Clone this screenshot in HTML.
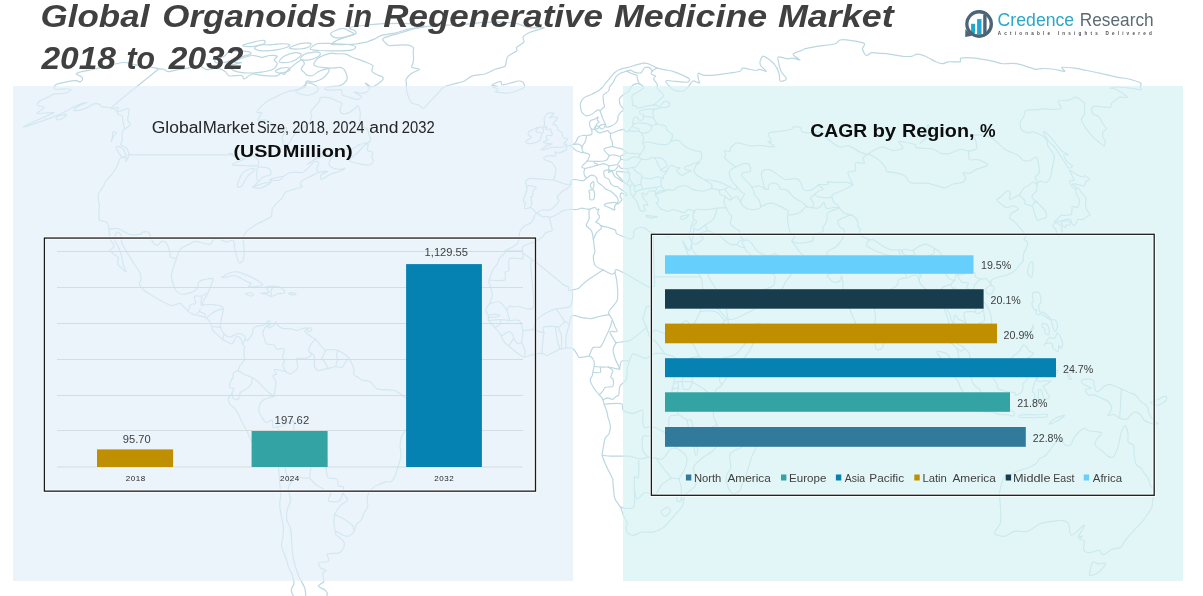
<!DOCTYPE html>
<html lang="en">
<head>
<meta charset="utf-8">
<title>Global Organoids in Regenerative Medicine Market 2018 to 2032</title>
<style>
html,body{margin:0;padding:0;background:#ffffff;}
body{width:1203px;height:596px;overflow:hidden;font-family:"Liberation Sans",sans-serif;}
svg{display:block;}
text{font-family:"Liberation Sans",sans-serif;}
.t1{font-weight:bold;font-style:italic;font-size:31px;fill:#404040;}
.ct{font-size:15.6px;fill:#262626;}
.cb{font-size:17px;font-weight:bold;fill:#0d0d0d;}
.cr{font-size:18px;font-weight:bold;fill:#0d0d0d;}
.dl{font-size:11.6px;fill:#404040;}
.ax{font-size:8px;fill:#262626;}
.lg{font-size:11.4px;fill:#404040;}
</style>
</head>
<body>
<svg width="1203" height="596" viewBox="0 0 1203 596">
<!--MAPSTART-->
<g id="map" fill="none" stroke="#bbd7e0" stroke-width="1.2" stroke-linejoin="round" stroke-linecap="round">
<path d="M23.1,126.9C23.6,126.4 29.4,123.7 32.8,122.2C36.2,120.6 43.8,117.2 46.9,115.8C49.9,114.4 54.1,112.8 54.1,112.4C54.2,112 49.6,112.7 47.1,112.8C44.7,113 37.3,114 36.9,113.3C36.5,112.5 44.1,108.5 44.2,107.4C44.2,106.3 37.8,106.3 37.2,105.3C36.7,104.4 38.5,101.9 40.1,100.8C41.6,99.6 46.2,98 48.2,97.1C50.1,96.2 51.1,94.8 53.6,94.2C56.2,93.6 63.7,93.7 66.1,93C68.6,92.3 71.2,89.9 71.1,89.4C71,88.8 67.8,89 65.5,89C63.2,88.9 56.1,89.6 54.7,89C53.4,88.3 54.5,85.6 56.2,84.6C57.8,83.5 63.8,82.3 66.6,81.8C69.3,81.2 73.9,80.6 75.8,80.6C77.7,80.6 79.2,82 80.1,81.8C81.1,81.6 82.5,79.8 82.6,79C82.7,78.2 81.6,77 80.7,76.3C79.7,75.5 76,74.4 76.2,73.8C76.4,73.1 79.2,72.3 81.8,71.6C84.5,71 91.5,69.7 94.7,69C98,68.2 100.6,67.2 104.7,66.3C108.7,65.4 119.1,62.8 123.2,62.5C127.3,62.3 130.7,63.9 133.4,64.4C136.2,64.9 140,65.5 142.6,65.9C145.3,66.3 149.7,67 152,67.4C154.3,67.8 157.2,68.5 158.9,68.8C160.5,69 162.6,68.9 163.9,69.3C165.2,69.7 166.2,71.6 168.1,71.6C170.1,71.7 175,70.3 177.9,69.7C180.9,69.2 186,68.3 189.1,67.8C192.2,67.3 197.4,66.1 199.7,66.3C201.9,66.5 204,68.5 205,69C206.1,69.4 205.2,69.8 207,69.7C208.8,69.6 215,67.9 217.5,68.2C220.1,68.5 223.5,70.5 225.2,71.6C226.9,72.7 227,75.3 229.4,75.9C231.7,76.4 239.6,75.1 241.6,75.5C243.7,76 242.5,79.2 244,79C245.5,78.8 249.8,74.5 252.1,74C254.3,73.4 257.5,74.8 259.8,75.1C262,75.4 265.5,75.8 267.9,75.9C270.3,76 274.9,76.3 276.8,75.9C278.6,75.5 279.8,73.4 280.8,73.2C281.8,73 283,74.9 284.1,74.3C285.3,73.8 286.5,71.3 288.8,69.3C291.2,67.4 298.4,61.1 300.6,60.3C302.8,59.5 304.3,62.5 304.4,63.7C304.5,64.8 301.2,67.4 301.2,68.6C301.1,69.8 303,71.1 303.9,72C304.7,73 305.8,74.6 307.1,75.1C308.3,75.6 310.9,76.1 312.7,75.5C314.4,75 316.9,72.2 319.2,71.3C321.4,70.3 327.5,68.3 328.7,68.6C329.9,68.8 328.8,71.7 327.8,73.2C326.8,74.7 323.7,77.8 321.7,79C319.7,80.2 315.7,81.5 313.6,81.8C311.4,82.1 307.9,80.5 306.7,81C305.4,81.4 306.1,83.8 305,85C303.9,86.1 301.3,88 298.8,89C296.3,89.9 290.3,90.8 287.3,91.8C284.4,92.8 280.7,94.5 277.9,95.9C275,97.2 269.8,99.5 267.3,101.2C264.8,102.8 261.7,105.8 260.2,107.4C258.8,109 256.9,111.7 257,112.4C257.2,113.2 261.5,111.8 261.6,112.8C261.7,113.9 257.4,119 258,120C258.7,121 264.1,119.4 266.3,120C268.4,120.6 271.7,123.3 273.3,124.3C275,125.3 276.2,126.7 278.1,127.3C279.9,127.8 286,126.7 286.6,128.1C287.2,129.6 282.7,135.3 282.2,137.2C281.7,139.1 283,140.5 283.1,141.6C283.3,142.6 282.4,144.3 283.2,144.6C284,144.9 287.5,144.8 288.8,143.8C290.1,142.7 291.1,139.1 292.4,137.2C293.7,135.4 296,132.3 297.8,130.7C299.6,129.2 303.7,127.6 305.3,126.4C307,125.2 308.6,123.7 309.5,122.2C310.4,120.6 311.6,117.2 311.8,115.8C311.9,114.4 310.3,113.6 310.6,112.4C310.9,111.2 312.6,109 313.9,107.4C315.1,105.8 318.6,102.6 319.6,101.2C320.5,99.8 319.1,98 320.5,97.5C321.9,97 327.3,97.4 329.6,97.9C332,98.4 335.2,100.4 337,101.2C338.7,101.9 341.6,102.1 342,103.2C342.4,104.4 339.9,108 339.9,109.5C340,111 341,113.3 342.4,113.7C343.7,114.1 347.8,113.2 349.6,112.4C351.4,111.7 353.9,109.2 355.1,108.2C356.3,107.3 357.4,105 358.1,105.7C358.8,106.5 360,111.5 360.3,113.7C360.5,115.8 359.6,119.1 359.9,120.9C360.1,122.7 361.1,125.2 362.2,126.4C363.2,127.6 366.6,128.3 367.5,129.4C368.4,130.5 368.3,132.8 368.8,134.2C369.2,135.6 370.7,138.2 370.7,139.4C370.6,140.6 370.3,141.7 368.7,142.4C367.1,143.2 361.5,143.7 359.2,144.6C356.9,145.6 354.7,148.4 352.2,149C349.7,149.6 345,149 341.8,149C338.5,149.1 332.5,148.6 329.4,149.5C326.3,150.3 322.6,153.1 320.1,154.8C317.6,156.4 313.8,160.1 312,161.4C310.2,162.7 307,164.3 307.3,164.1C307.7,163.9 311.8,161.4 314.3,160.1C316.9,158.7 322.5,155.6 325.4,154.8C328.2,153.9 333.8,153.2 334.5,153.9C335.3,154.5 331.4,157.8 330.6,159.2C329.8,160.6 328.8,162.5 328.9,163.6C329,164.8 329.6,166.4 331.1,167.2C332.6,168 337.3,169.3 339.2,169.4C341.2,169.5 344.9,167.8 345.1,168.1C345.3,168.3 342.5,170.3 340.4,171.2C338.3,172.1 333,173.2 330.3,174.3C327.6,175.5 322.6,179.2 321.3,179.3C320,179.3 320.2,175.9 321.1,174.8C322,173.6 328.2,171.5 327.8,171.2C327.4,170.9 320.9,171.7 318.3,172.5C315.7,173.4 311.6,175.9 309.4,177C307.2,178.1 304,179.2 302.7,180.2C301.5,181.1 300.4,182.8 300.3,183.8C300.2,184.7 302.7,186.2 302,186.9C301.4,187.6 298.2,188 295.9,188.7C293.5,189.5 287.2,191.1 285.3,192.3C283.5,193.5 283.8,196 282.8,197.3C281.8,198.6 279.8,200.2 278.3,201.8C276.8,203.4 273.3,206.6 272.3,208.6C271.4,210.7 272.5,214.7 271.4,216.4C270.4,218 267.2,218.8 265.1,220C262.9,221.2 258.7,222.9 256.1,224.5C253.5,226.2 248.4,229.4 246.5,231.4C244.7,233.3 243.5,235.8 243.2,238.2C242.8,240.6 244.2,245.3 244.2,248.2C244.3,251.1 244,256.7 243.6,258.7C243.2,260.7 242.1,261.8 241.4,262.3C240.7,262.8 239.3,263.2 238.7,262.3C238,261.5 237.2,258.2 236.7,256.4C236.2,254.6 235.5,251.8 235,249.6C234.5,247.3 234.5,241.6 233.3,240.5C232.1,239.4 228.4,242 226.4,241.8C224.4,241.6 221.2,239.4 219.4,239.1C217.6,238.8 214.8,238.9 213.5,239.6C212.2,240.3 211.6,243.5 210.4,244.1C209.1,244.7 206.8,244 204.7,243.7C202.6,243.3 197.9,241.3 195.6,241.4C193.4,241.5 191.3,243 189.1,244.1C186.9,245.3 181.7,247.5 179.9,249.6C178.1,251.6 177.7,255.1 176.5,258.7C175.3,262.2 171.9,271.1 171.4,274.6C170.9,278.2 172.4,281.5 173.1,283.7C173.7,286 174.8,289.1 175.9,290.5C177.1,292 179.1,293.9 181.3,294.2C183.5,294.4 189.2,293.2 191.5,292.4C193.7,291.5 196.1,289.8 197.2,288.3C198.4,286.7 197.7,282.8 199.4,281.4C201.2,280.1 207.4,279 209.3,278.7C211.3,278.4 213.1,277.8 213.2,279.2C213.3,280.5 210.8,286 209.9,288.3C209,290.5 208,292.8 206.9,295.1C205.9,297.3 201.6,302.8 202.5,304.2C203.4,305.5 210.6,304.1 213.6,304.6C216.5,305.2 222.1,305.6 223.1,307.8C224.2,310 221.4,317.4 221.1,320.1C220.7,322.8 220,324.9 220.5,326.9C221,329 223.3,333.3 224.7,334.7C226.2,336.1 228.9,337.1 230.6,337C232.3,336.8 235.1,334.1 236.8,333.8C238.5,333.4 241.6,334 242.8,334.7C244,335.3 245.4,337 245.3,338.3C245.3,339.7 243.2,344.1 242.6,344.2C242.1,344.4 242.1,340.3 241.3,339.2C240.4,338.1 237.9,335.9 236.6,336.5C235.4,337.1 233.5,343 232.2,343.8C230.9,344.6 228.9,342.6 227.5,342C226.1,341.3 223.6,339.9 222.5,339.2C221.4,338.5 220.9,337.9 219.8,337C218.7,336 216,333.5 214.9,332.4C213.8,331.3 212.4,330.3 211.9,329.2C211.4,328.1 212.3,326.3 211.5,324.7C210.7,323.1 208,319.1 206.1,317.8C204.3,316.6 200.6,316.2 198.4,315.6C196.2,314.9 192.8,314.6 190.6,313.3C188.5,312 185,307.9 183.5,306.5C182,305 181.6,303.4 180,303.3C178.3,303.1 174.2,305.8 171.7,305.6C169.2,305.3 164.2,302.3 162.4,301.5C160.5,300.6 160.2,300.5 158.7,299.6C157.1,298.7 153.5,296.4 151.4,295.1C149.4,293.8 146,292.1 144.3,290.5C142.6,289 139.9,285.8 139.5,284.2C139,282.6 141.1,280.8 141.1,279.2C141.1,277.5 140.7,274.6 139.6,272.3C138.6,270.1 135.1,265.5 133.7,263.2C132.3,261 130.6,258.3 129.5,256.4C128.3,254.5 126.6,251.5 125.5,249.6C124.4,247.6 122.5,244.9 121.8,242.8C121.2,240.6 121.5,236 120.8,234.6C120,233.1 117.5,231.4 116.6,232.3C115.8,233.1 114.6,238.3 114.9,240.5C115.1,242.6 117.5,245 118.5,247.3C119.4,249.6 121,253.8 121.7,256.4C122.4,259 122.8,263.4 123.4,265.5C124,267.6 126,270.8 126.1,271.4C126.1,272.1 124.8,271.1 123.6,270.1C122.4,269 118.6,265.9 117.8,264.1C117.1,262.4 118.9,259.3 118.2,257.8C117.5,256.2 114,254.3 112.8,253.2C111.6,252.2 109.6,251.5 109.7,250.5C109.9,249.5 114,248 114.1,246.4C114.2,244.8 111,241.1 110.3,239.1C109.6,237.1 109.5,233.7 109.3,232.3C109.2,230.9 109.4,230.5 109,229.1C108.7,227.7 108.2,223.6 106.9,222.3C105.5,221 100.6,221.7 99.5,220C98.4,218.3 99,212.6 99,210.5C98.9,208.3 99.5,206.7 99.4,205C99.3,203.3 98.2,199.9 98.1,198.2C98,196.5 97.9,195 98.7,193.2C99.5,191.5 102.7,187.7 103.7,186C104.6,184.4 104.2,183.2 105.4,181.5C106.5,179.9 110.2,176.4 111.8,174.3C113.4,172.3 115.2,169.6 116.5,167.2C117.8,164.8 119.4,158.7 120.8,157.4C122.2,156.1 125.7,157.3 126.4,157.8C127.2,158.4 125.3,161.8 125.8,161.4C126.2,161 128.9,155.9 129.4,154.8C129.8,153.6 129.3,154.4 128.9,153.4C128.5,152.5 127.8,149.4 126.6,148.1C125.4,146.9 121.3,145.7 120.7,144.6C120.1,143.6 122.1,142.1 122.3,140.7C122.4,139.3 122,136.3 122,135.1C122,133.8 122.1,132.5 122.4,131.6C122.8,130.7 124.4,129.6 124.5,128.6C124.7,127.5 123.8,125.5 123.5,124.3C123.3,123.1 122.9,121.2 122.7,120C122.5,118.8 122.7,116.6 122.1,115.8C121.5,115 119.2,115.1 118.5,114.5C117.7,113.9 117.3,112.4 116.7,111.6C116.1,110.8 115.3,109.2 114.1,108.7C112.9,108.1 110.2,107.7 108.4,107.4C106.6,107.1 102.6,107 101.3,106.6C100,106.1 100.6,104.4 99.4,104.1C98.2,103.7 94.7,103.6 93,104.1C91.3,104.5 89.5,106.5 87.5,107.4C85.6,108.3 81.2,109.9 79.3,110.3C77.3,110.7 73.6,111 73.8,110.3C73.9,109.6 78.5,106.4 80.4,105.3C82.3,104.2 87.1,102.6 87.1,102.4C87,102.2 82.8,103.1 80.3,104.1C77.7,105.1 71.6,108.2 69,109.5C66.4,110.8 64.5,112.1 61.9,113.3C59.4,114.5 54.1,116.7 50.9,117.9C47.8,119.1 43.1,120.6 39.9,121.7C36.8,122.8 31.3,124.8 28.9,125.6C26.5,126.3 22.5,127.3 23.1,126.9Z"/>
<path d="M383.8,38C386.3,36.6 398.4,33.6 402.7,32.2C407,30.9 410.3,29.5 414,28.6C417.7,27.8 423.6,26.9 428.6,26.4C433.5,25.8 443.8,25.3 449.1,25C454.5,24.7 461.6,24.6 466.6,24.2C471.6,23.8 480,22.7 484.6,22.4C489.2,22.1 494.6,22 498.9,22.1C503.2,22.2 511.1,22.5 514.8,23.1C518.5,23.7 522.8,25.7 525.2,26.4C527.6,27 529.2,27.6 531.8,27.8C534.5,28 544.3,27.1 544,27.8C543.8,28.4 533,30.9 530.1,32.2C527.1,33.5 524,35.6 523.1,37C522.2,38.4 524.7,40.6 523.8,42.1C522.9,43.5 517.6,46 516.6,47.3C515.6,48.5 517.9,49.6 516.7,50.8C515.5,52.1 509.5,54.7 508,56.3C506.5,57.8 506.6,60.4 506.2,61.8C505.7,63.2 506.3,65.2 504.8,66.3C503.2,67.4 498,68.3 495.1,69.3C492.3,70.4 488.1,73 484.8,74C481.6,74.9 475.2,74.9 472.3,75.9C469.4,76.9 467.2,79.8 464.4,81C461.7,82.2 455.6,83.3 452.7,84.2C449.7,85 445.9,85.7 443.9,87C441.9,88.2 440.3,91 438.3,93C436.4,95 432.3,99.1 430.3,101.2C428.4,103.2 425.7,106.4 424.6,107.4C423.5,108.4 423.6,108.6 422.7,108.2C421.7,107.8 419.3,105.2 417.8,104.5C416.3,103.8 413.3,104.3 412,103.2C410.7,102.2 409.3,98.9 408.5,97.1C407.7,95.2 406.9,92.2 406.6,90.2C406.3,88.2 406.3,84.6 406.3,83C406.3,81.4 405.6,80.4 406.3,79C407.1,77.6 409.7,74.6 411.6,73.2C413.5,71.8 419.5,70.2 419.6,69.3C419.7,68.5 413,68.2 412,67.4C411,66.6 412.6,65 412.8,63.7C413.1,62.3 413.5,59.7 413.6,58.1C413.6,56.5 413.2,54.2 413.2,52.6C413.1,51.1 414.2,48.4 413.2,47.3C412.2,46.2 409.3,45.1 405.9,44.8C402.5,44.6 392.3,45.9 389.3,45.5C386.3,45.1 385.5,43.1 384.7,42.1C383.9,41 381.2,39.4 383.8,38Z"/>
<path d="M491.8,85C492.2,84.3 498.9,81.4 500.4,81.4C501.9,81.4 500.8,84.8 502.5,85C504.1,85.1 509.9,83.1 512.2,82.6C514.4,82 517,81.1 518.5,81C520.1,80.9 522,81.3 522.8,82.2C523.7,83 525,85.9 524.5,87C524.1,88 521.8,88.9 519.7,89.8C517.6,90.6 512.2,92.6 509.7,93C507.2,93.4 504.1,92.8 502,92.6C500,92.4 496,92.3 495.4,91.8C494.9,91.3 498.7,89.6 498.3,89C498,88.3 492.8,87.8 492.7,87.4C492.6,87 497.7,86.5 497.6,86.2C497.5,85.8 491.4,85.6 491.8,85Z"/>
<path d="M382,80.6C383.5,79.2 383.3,77.8 382.7,77.1C382.1,76.3 379.6,75.9 378,75.1C376.5,74.3 372.5,72.6 371.8,71.3C371.1,69.9 373.7,66.8 372.9,65.5C372.2,64.3 368.4,63.3 366.6,62.5C364.8,61.7 362.3,60.7 360.2,59.9C358.1,59.2 353.5,57.8 351.5,57C349.5,56.2 348.2,54.5 345.9,54.1C343.6,53.6 337.5,53.8 335.2,53.7C333,53.6 332.5,52.7 330.1,53.4C327.7,54 320.7,56.5 318.3,58.1C316,59.7 313.8,63.2 313.7,64.4C313.5,65.6 316.1,66.2 317.3,66.7C318.6,67.1 320.6,67.2 322.4,67.4C324.3,67.7 328,68.2 330.5,68.2C332.9,68.2 337.9,67.3 339.8,67.4C341.7,67.6 343.1,68.4 344,69.3C345,70.3 345.9,72.6 346.4,74C346.8,75.3 347.4,77.7 347.1,79C346.8,80.3 345.4,82 344.3,83C343.3,83.9 341.7,85.2 339.4,85.8C337,86.3 329.9,86.5 327.9,87C325.8,87.4 324.3,88.5 324.9,89C325.4,89.4 329.4,90.1 331.7,90.2C334,90.3 339.7,89.1 341.2,89.8C342.8,90.5 341.3,94 342.4,95C343.5,96.1 346.9,96.4 349,97.1C351,97.7 355.1,99.6 356.9,99.5C358.7,99.5 362.1,97.7 361.7,96.7C361.3,95.6 354.1,92.7 354.2,92.2C354.2,91.7 360.5,93.4 362.1,93.4C363.7,93.5 364.6,93.3 365.7,92.6C366.8,91.9 369.7,89.9 369.6,88.6C369.6,87.2 365.1,83.2 365.5,83C365.9,82.7 369.8,87.3 372.1,87C374.5,86.6 380.5,82 382,80.6Z"/>
<path d="M230.8,65.5C229.5,66.6 230.8,69.1 232.8,70.1C234.7,71.1 240.7,72.5 244.5,72.8C248.3,73.1 255.5,72.9 259.5,72.4C263.6,71.9 270.3,70.6 272.9,69.3C275.4,68.1 277.1,65 277.3,63.7C277.5,62.3 274.3,61 274.2,59.9C274.2,58.9 277.7,56.9 277,56.3C276.4,55.6 271.7,55.4 269.6,55.5C267.4,55.7 264.2,57.4 261.8,57.4C259.4,57.4 256,55.3 252.9,55.5C249.9,55.7 243,57.8 240.4,58.8C237.7,59.8 234.2,62 234.4,62.5C234.5,63.1 242,62.1 241.5,62.5C241,63 232,64.5 230.8,65.5Z"/>
<path d="M215,59.9C214,60.9 215.2,62.7 216.8,62.9C218.5,63.2 223.8,62.5 226.8,61.8C229.7,61.1 234.3,58.8 237.6,57.7C240.9,56.7 248.5,55.3 250.2,54.4C251.9,53.6 250.9,52.4 249.5,51.9C248,51.4 242.9,50.9 240,50.8C237.2,50.8 231.7,50.8 229.5,51.6C227.2,52.3 226.2,55.1 224.2,56.3C222.1,57.4 216.1,59 215,59.9Z"/>
<path d="M254.5,48.3C254.8,49.2 258.7,50.6 261.9,50.8C265,51 273.3,50.3 276.9,49.8C280.4,49.3 285.2,48 286.9,47.3C288.7,46.5 290.5,45 289.4,44.5C288.4,44 282.5,43.7 279.8,43.8C277.1,43.8 273.2,44.7 270.4,44.8C267.5,45 262,44.3 259.7,44.8C257.5,45.3 254.2,47.5 254.5,48.3Z"/>
<path d="M289.6,48.3C290.6,48.7 296.8,49.2 299.5,49C302.2,48.9 306.8,48.1 308.4,47.3C310,46.5 311.7,44 310.7,43.4C309.7,42.9 304.1,43 301.5,43.4C298.9,43.8 294.1,45.5 292.4,46.2C290.7,46.9 288.6,47.9 289.6,48.3Z"/>
<path d="M310.3,49C310.7,50 315.9,50.2 319.5,50.5C323.1,50.7 331,50.9 335.5,50.8C339.9,50.8 348.3,50.7 351.2,50.1C354,49.6 356.3,47.7 355.8,46.9C355.3,46.1 350.7,44.9 347.8,44.5C344.9,44 338.2,43.9 335.4,43.8C332.6,43.6 330.5,43.4 327.9,43.4C325.3,43.4 319.4,43 316.9,43.8C314.4,44.6 309.9,48.1 310.3,49Z"/>
<path d="M331.9,44.5C333.1,45.1 341.7,44.6 345.2,44.5C348.7,44.4 353.5,44.1 356.5,43.8C359.6,43.4 363.7,42.8 366.4,42.1C369,41.3 373.1,39.6 375.3,38.7C377.5,37.7 378.9,36.2 381.6,35.4C384.2,34.6 390.3,34 394.2,33.2C398,32.3 404.3,30.2 408.4,29.2C412.6,28.3 422.2,27.1 423.7,26.4C425.2,25.6 421.8,24.6 418.9,24.2C416,23.8 408.2,23.5 403.2,23.4C398.2,23.3 389.7,23.4 383.9,23.7C378,24 367,25 362.1,25.5C357.2,26.1 350.2,27 349.2,27.8C348.1,28.5 353.9,29.9 354.8,30.7C355.7,31.6 356.9,32.9 355.7,33.8C354.5,34.7 349.1,36.1 346.4,37C343.8,37.9 339.1,39.3 337,40.3C334.9,41.4 330.7,43.9 331.9,44.5Z"/>
<path d="M330.5,33.8C330.5,34.8 333,37.3 335.3,37.7C337.6,38.1 344.3,37.3 346.8,36.7C349.4,36.1 353.4,34.4 353.6,33.5C353.7,32.6 349.2,31.1 347.8,30.4C346.4,29.7 345.2,28.3 343.4,28.4C341.6,28.4 336.8,29.9 335,30.7C333.2,31.5 330.5,32.8 330.5,33.8Z"/>
<path d="M300.4,59.2C301.1,60 306.9,60.4 309.5,59.9C312.1,59.5 317.3,57.3 318.8,56.3C320.3,55.2 320.8,53.2 319.8,52.6C318.9,52.1 314.2,52 312,52.3C309.8,52.5 305.7,53.5 304.1,54.4C302.4,55.4 299.6,58.4 300.4,59.2Z"/>
<path d="M279.3,61.8C279.7,62.7 284.7,62.8 287,62.5C289.3,62.3 293.3,61.1 295.4,59.9C297.4,58.8 301.4,55.5 301.3,54.4C301.3,53.4 297.6,52.4 295.1,52.6C292.7,52.9 286.3,55 284,56.3C281.8,57.6 278.8,60.9 279.3,61.8Z"/>
<path d="M275.3,71.3C275.3,72 278.8,73.3 280.8,73.2C282.8,73.1 288.1,71.2 289.2,70.5C290.3,69.7 290,68.1 288.9,67.8C287.7,67.5 283.2,67.7 281.2,68.2C279.3,68.7 275.4,70.5 275.3,71.3Z"/>
<path d="M295.7,91C295.1,92 299,93.6 301,94.2C302.9,94.8 307.5,95.4 309.7,95C311.9,94.7 315.5,92.8 316.7,91.8C317.9,90.8 318.6,88.8 318.1,87.8C317.6,86.7 314.8,84.8 313.2,84.2C311.6,83.5 307.7,82.6 306.6,83C305.4,83.4 306.5,85.8 305,87C303.4,88.1 296.3,90 295.7,91Z"/>
<path d="M242.7,45.5C242.4,46.2 248.7,46.8 251.7,46.6C254.8,46.3 262.2,44.7 264,43.8C265.7,42.9 265.6,40.6 264.1,40.3C262.6,40.1 256.5,41.3 253.5,42.1C250.5,42.8 242.9,44.9 242.7,45.5Z"/>
<path d="M350.1,161C351.5,161.8 358,163.5 360.8,164.1C363.5,164.6 367.6,165.3 369.4,165C371.2,164.6 373,162.5 373.4,161.4C373.8,160.3 372.1,158.2 372,157C372,155.7 373.5,153.5 372.9,152.5C372.2,151.6 368.1,151.6 367.4,150.3C366.7,149.1 368.7,144.4 368.2,143.8C367.7,143.1 365.3,144.7 363.9,145.9C362.4,147.2 359.6,150.9 357.8,152.5C356,154.2 352.4,156.7 351.3,157.8C350.2,159 348.8,160.1 350.1,161Z"/>
<path d="M116.2,146.8C115.8,147.6 118.1,151.9 119.1,153.4C120.1,154.9 122.3,156.9 123.2,157.4C124.2,157.9 125.5,157.8 125.7,157C125.9,156.1 125.2,153 124.6,151.7C124.1,150.4 122.9,148.4 121.7,147.7C120.5,147 116.6,146 116.2,146.8Z"/>
<path d="M112.9,132C112.3,132.7 112.5,135.9 112.3,137.2C112,138.6 111,141.8 111.2,141.6C111.4,141.4 113,137.2 113.8,135.9C114.5,134.6 116.7,133 116.6,132.5C116.4,131.9 113.5,131.3 112.9,132Z"/>
<path d="M56,117.5C55.7,118.1 57.3,120 58.4,120C59.5,120 62.8,118.3 63.9,117.5C65,116.7 66.8,114.8 66.3,114.5C65.8,114.2 61.9,115 60.4,115.4C59,115.8 56.3,116.8 56,117.5Z"/>
<path d="M221.7,277.3C222.1,276.8 227.6,273.6 229.9,272.8C232.2,272 235.7,271.6 237.9,271.9C240.1,272.1 243.2,273.8 245.3,274.6C247.4,275.4 250.7,276.7 252.8,277.8C254.8,278.9 258.6,281.3 260,282.3C261.5,283.4 263.2,284.5 262.8,285.1C262.5,285.7 259.5,286.2 257.5,286.4C255.5,286.6 249.7,286.9 248.8,286.4C248,286 251.6,284 251.2,283.3C250.9,282.5 247.8,282.1 246.4,281.4C244.9,280.7 242.7,279.1 240.9,278.2C239.1,277.4 235.3,275.7 233.4,275.5C231.5,275.3 229,276.6 227.3,276.9C225.7,277.1 221.4,277.9 221.7,277.3Z"/>
<path d="M261,293.3C260.6,293.5 265,293.7 266.4,294.2C267.9,294.6 269.6,296.5 271.3,296.5C273,296.4 276.5,294.2 278.4,293.7C280.3,293.2 284.2,293.5 284.8,292.8C285.5,292.2 283.7,290 282.9,289.2C282.1,288.3 280.7,287.3 279.2,286.9C277.7,286.5 274.4,286.5 272.5,286.4C270.7,286.4 266.9,285.9 266.2,286.4C265.6,287 267.7,289.7 268.1,290.5C268.5,291.4 270,292 269,292.4C268,292.7 261.4,293 261,293.3Z"/>
<path d="M245.5,293.7C245.5,294.2 249.2,295.8 250.4,296C251.5,296.2 253.6,295.5 253.7,295.1C253.7,294.6 251.9,293 250.8,292.8C249.6,292.6 245.6,293.3 245.5,293.7Z"/>
<path d="M289.4,294.2C290.2,294.4 294.5,294.8 295.3,294.6C296.2,294.5 296.3,293.5 295.5,293.3C294.6,293 290.4,292.7 289.6,292.8C288.7,292.9 288.6,293.9 289.4,294.2Z"/>
<path d="M232.3,164.5C231.6,165.4 236.6,165.2 239,165.4C241.4,165.6 246.8,165.8 249.5,165.8C252.2,165.8 256.7,166.3 257.9,165.4C259.1,164.5 258.9,161 257.9,159.6C256.9,158.2 253.1,155.7 251.1,155.6C249.2,155.6 246.6,157.9 244,159.2C241.3,160.4 233,163.6 232.3,164.5Z"/>
<path d="M237.1,186C237.1,187.8 240.5,187.3 241.9,186C243.3,184.7 245.2,179.4 247.1,177C248.9,174.7 254.6,170.6 254.9,169.4C255.3,168.3 251.6,168.4 249.8,169C248,169.5 244,171 242.2,173.4C240.4,175.9 237.2,184.2 237.1,186Z"/>
<path d="M257.4,168.1C256.5,169.5 256.7,175.2 256.8,177C257,178.9 257.8,181.1 258.7,181.1C259.6,181.1 261.7,178 263.4,177C265.1,176.1 269.8,175.5 270.7,174.3C271.6,173.2 270.6,170 269.5,169C268.4,168 264.9,167.3 263.2,167.2C261.4,167.1 258.3,166.7 257.4,168.1Z"/>
<path d="M252.9,186.9C252.3,187.6 258.8,188.4 261.3,187.8C263.8,187.2 270.1,183.6 270.7,182.9C271.2,182.2 267.7,182.3 265.2,182.9C262.7,183.4 253.4,186.2 252.9,186.9Z"/>
<path d="M269.3,180.2C269.6,180.5 277.1,180.7 279.1,180.2C281.1,179.7 283.5,177 283.1,176.6C282.8,176.2 278.6,177 276.6,177.5C274.6,178 268.9,179.8 269.3,180.2Z"/>
<path d="M158.9,68.8C152.4,74.1 118.8,100.7 113,106.2C107.2,111.6 117.3,106.6 118,107.4C118.8,108.2 116.9,111.4 118.3,111.6C119.7,111.8 126.4,108.5 127.9,108.7C129.4,108.8 128.8,110.8 128.8,112.4C128.8,114 127.5,118.3 127.7,120C127.9,121.7 130.5,123.1 130.2,124.3C129.9,125.5 126.2,128 125.5,128.6"/>
<path d="M127.9,154.8C141.9,154.8 212,154.9 226.3,154.8C240.6,154.6 227.4,153.1 228.8,153.4C230.2,153.8 233.9,156.6 236.1,157.4C238.2,158.2 242.9,158.9 244,159.2"/>
<path d="M258.7,181.1C258.2,181.6 255.9,184.3 255.1,185.1C254.3,185.9 253.2,186.7 252.9,186.9"/>
<path d="M271.1,182 271.5,180.2"/>
<path d="M283.1,176.6C284.2,176 287.9,173.1 290.6,172.5C293.3,172 300,172.8 302.1,172.5C304.2,172.3 304.2,171.7 305.3,170.8C306.5,169.8 308.9,167.1 310.2,165.8C311.5,164.6 313.5,162.3 314.7,161.8C315.9,161.3 318.4,161.3 318.7,162.3C319.1,163.3 316.9,167.5 316.8,169C316.8,170.4 318.1,172 318.3,172.5"/>
<path d="M109,229.1C110.3,229 115,227.9 118,228.6C121,229.4 127.1,233.8 130.4,234.6C133.7,235.3 139.7,234.4 141.3,234.1C142.9,233.8 140.9,232.5 141.9,232.3C143,232 146.9,230.9 148.5,232.3C150,233.7 151.6,240.5 152.9,242.3C154.2,244.1 156.6,245.2 157.9,245C159.1,244.9 160.5,241.7 161.7,241.4C162.8,241.1 165.1,241.3 166.3,242.8C167.4,244.2 169.1,249.4 169.7,251.4C170.3,253.4 169.3,255.8 170.3,256.9C171.3,257.9 175.6,258.4 176.5,258.7"/>
<path d="M188.1,311C188.3,310.6 188.9,308.8 189.3,307.8C189.7,306.9 190.1,304.8 191,304.2C191.9,303.6 195.3,304.5 195.8,303.7C196.3,303 194.6,299.8 194.5,298.7C194.4,297.6 193.8,296.4 194.9,296C196,295.6 200.5,296.4 202,296C203.6,295.6 205.4,293.7 206,293.3"/>
<path d="M202,296C201.9,297.2 200.6,303.3 200.8,304.6C201.1,306 203.1,305.4 203.5,305.6"/>
<path d="M200.3,308.7C200.2,309.1 199.8,310.7 199.2,311.5C198.7,312.2 196.9,313.8 196.5,314.2"/>
<path d="M199.2,311.5C200,311.8 203.7,313 204.5,313.7C205.4,314.5 205,316.1 205.1,316.5"/>
<path d="M206.9,317.8C207.4,317.3 209.1,315.2 210.5,314.2C211.9,313.2 215.1,311.3 216.8,310.6C218.6,309.8 222.1,309 223,308.7"/>
<path d="M212.5,326.5C213.1,326.6 215.4,326.8 216.5,326.9C217.6,327.1 219.9,327.3 220.5,327.4"/>
<path d="M222.8,340.1C222.9,339.6 223.2,336.9 223.5,336C223.7,335.1 224.3,334.1 224.4,333.8"/>
<path d="M271.3,296.5C271.3,295.8 270.9,293.3 271.1,291.9C271.2,290.5 272.3,287.6 272.5,286.9"/>
<path d="M245.3,338.3C245.6,338.6 246.2,341.2 247.2,340.6C248.2,339.9 251.6,335.4 252.4,333.8C253.3,332.2 252.6,330.2 253.1,329.2C253.6,328.2 254.7,327.1 256.1,326.5C257.6,325.9 261.6,326 263.4,325.1C265.2,324.3 268,320.8 268.9,320.6C269.9,320.4 270.5,322.9 270.3,323.8C270.1,324.7 267.8,326.4 267.7,326.9C267.5,327.5 268.2,328.2 269.2,327.9C270.2,327.5 273.7,325.6 274.6,324.7C275.5,323.8 275.3,321.5 275.7,321.5C276,321.5 276.5,323.7 277.4,324.7C278.3,325.6 280,327.7 282,328.3C283.9,328.9 289,328.4 291.1,328.8C293.3,329.1 295.3,330.6 297,330.6C298.7,330.5 301.7,328.6 303.2,328.3C304.7,328 307.3,327.9 307.6,328.3C307.8,328.8 304.4,330.3 305,331.5C305.5,332.7 310,335.9 311.5,337C313,338 314.2,338.1 315.4,339.2C316.7,340.4 319,343.7 320.4,345.1C321.8,346.6 323.1,349.1 325,349.7C327,350.3 332.1,349.4 334.3,349.7C336.4,350 338.6,350.7 340.2,351.5C341.9,352.3 344.9,354.3 346.2,355.2C347.4,356.1 347.8,356 348.9,357.9C350,359.8 353.2,366.4 353.9,368.8C354.7,371.2 353,373.4 353.9,374.7C354.7,376.1 358.8,377.6 359.9,378.4C361,379.1 360.5,379.7 361.9,380.2C363.4,380.6 367.9,380.3 370,381.6C372.1,382.8 374.6,387.7 376.9,388.8C379.2,390 383.7,389.5 386.2,389.7C388.6,389.9 392.2,389.6 394.2,390.2C396.2,390.8 398.5,392.6 400.3,393.8C402,395.1 404.5,397.8 406.4,398.8C408.2,399.9 412,399.6 413.3,401.1C414.5,402.6 415.2,406.9 415.4,409.3C415.7,411.7 415.8,415.8 414.9,418C414,420.1 410.5,423 409.1,424.8C407.8,426.6 406.4,429.1 405.4,430.7C404.3,432.3 402.4,434.1 401.6,436.2C400.9,438.2 400.2,442.4 400.1,445.3C400,448.2 401.1,453.7 400.9,456.6C400.6,459.5 399,463.5 398.4,465.7C397.7,468 396.7,471 396.1,472.6C395.6,474.2 395.3,475.8 394.5,477.1C393.8,478.4 392.2,481 391,481.7C389.8,482.3 387.9,481.3 386.3,481.7C384.6,482.1 381.2,483.6 379.5,484.4C377.7,485.2 375.4,485.9 373.9,487.1C372.3,488.4 369.6,491.2 368.6,493C367.7,494.9 367.3,497.9 367.2,499.9C367,501.8 368.2,504.8 367.7,506.7C367.3,508.6 364.7,511.6 363.8,513.5C362.8,515.5 362.1,518.9 361.1,520.4C360.1,521.8 357.9,522.4 356.8,524C355.8,525.6 354.9,530.1 353.8,531.7C352.8,533.4 350.7,535.2 349.4,535.8C348.1,536.4 346.3,536.4 344.5,535.8C342.7,535.2 337.9,531.9 336.7,531.7C335.5,531.5 335.2,533.5 335.8,534.5C336.4,535.4 339.7,537.3 340.9,538.6C342.1,539.8 344,541.5 344.3,543.1C344.5,544.7 343.5,548.5 342.6,549.9C341.8,551.3 340.4,552.5 338.3,553.1C336.1,553.7 328.7,552.8 327.3,554C326,555.1 330,560 328.8,561.2C327.6,562.4 320,561.6 318.9,562.6C317.7,563.5 319.7,566.9 320.7,568C321.8,569.1 326,569.5 326.2,570.2C326.5,571 323,571.8 322.6,573.4C322.2,575 324.3,579.7 323.7,581.5C323.1,583.2 318,584.7 318.2,585.9C318.5,587.2 324,589.2 325.3,590.4C326.6,591.5 327.5,592.4 327.4,593.9C327.3,595.5 325.3,599.5 324.6,601.5C323.8,603.5 321.9,606.3 322.3,608.1C322.7,609.8 326.9,612.8 327.1,613.7C327.3,614.7 324.7,614.2 323.7,614.6C322.7,615 320.5,616 320,616.8C319.6,617.6 321.5,620.2 320.5,620.2C319.5,620.2 315.2,618.2 312.9,616.8C310.6,615.4 306.7,612.4 304.3,610.2C302,608.1 298.4,604.3 296.6,601.5C294.7,598.6 291.5,592.9 291.2,590.4C290.8,587.9 293.9,585.9 294,583.7C294.2,581.5 293,577.1 292.2,574.7C291.4,572.4 289.4,569.4 288.5,567.1C287.6,564.7 286.9,561 285.9,558.1C284.9,555.1 282.1,549 281.6,546.3C281.2,543.5 282.4,541.3 282.7,538.6C282.9,535.8 283.6,530.7 283.4,527.2C283.1,523.6 281.3,516.7 280.8,513.5C280.3,510.3 279.7,507 279.7,504.4C279.6,501.8 280.7,498.2 280.7,495.3C280.7,492.4 280,487.5 279.8,483.9C279.5,480.4 279.1,473.6 278.8,470.3C278.4,467 278.2,462.8 277.2,460.7C276.3,458.7 273.9,457.1 271.9,455.7C270,454.4 265.7,452.5 263.5,451.2C261.2,449.9 257.9,448.2 256.2,446.6C254.5,445.1 252.4,442.4 251.2,440.3C249.9,438.1 248.5,434.1 247.2,431.6C246,429.1 243.4,425 242.2,422.5C240.9,420.1 239.5,416.3 238.5,414.3C237.4,412.4 236.2,410.3 235,408.9C233.8,407.4 230.9,405.8 230,404.3C229,402.8 228.2,400.1 228.5,398.4C228.9,396.7 231.6,393.9 232.3,392.5C233.1,391.1 234.2,389.1 233.9,388.4C233.5,387.7 230.3,388.4 229.8,387.5C229.3,386.5 230,383 230.5,381.6C231,380.1 232.9,378.2 233.3,377C233.7,375.8 232.6,374.3 233.3,373.4C234,372.4 237.3,371.3 238.2,370.2C239.1,369.1 239,367.1 239.9,365.6C240.8,364.1 243.9,361.6 244.4,359.7C245,357.8 243.9,353.8 243.9,352C243.9,350.1 244.7,347.6 244.5,346.5C244.4,345.4 242.9,344.6 242.6,344.2"/>
<path d="M307.4,331C307.8,331.4 310.4,331.5 311,331C311.6,330.6 312,328.2 311.6,327.9C311.2,327.5 309,327.9 308.4,328.3C307.8,328.8 307,330.7 307.4,331Z"/>
<path d="M270.3,323.3C269.6,323.8 266.3,325.5 265.3,326.9C264.2,328.4 262.9,332 262.8,333.8C262.8,335.5 264.4,337.8 264.9,339.2C265.4,340.6 265,342.9 266.3,343.8C267.6,344.6 272.8,344.4 274.3,345.1C275.7,345.9 275.1,348.7 276.5,349.2C277.9,349.8 283.3,347.8 284.2,348.8C285,349.8 282.6,354.7 282.7,356.5C282.7,358.4 284.6,360.9 284.6,362C284.5,363.1 282.4,362.9 282.5,364.3C282.6,365.6 285.1,370.5 285.6,371.5"/>
<path d="M285.6,371.5C284,371.2 275.6,368.9 274.4,369.3C273.1,369.7 276.8,373.5 276.7,374.3C276.6,375 273.9,374.2 273.5,374.7C273,375.2 273.1,376.9 273.5,377.9C273.8,378.9 275.8,379 275.9,381.6C276,384.1 274.5,394.1 274.2,396.1"/>
<path d="M274.2,396.1C273.8,395.9 272.5,395.5 271,394.3C269.4,393.1 265.2,389.5 263.6,387.9C261.9,386.3 261.1,384.4 259.5,382.9C257.9,381.4 253.2,378.2 252.2,377.5"/>
<path d="M252.2,377.5C251.5,377.2 248.6,376.2 247.4,375.6C246.1,375.1 244.7,374.5 243.4,373.8C242.1,373.1 238.9,371.1 238.2,370.6"/>
<path d="M252.2,377.5C252.1,378.4 252.2,382.2 251.4,383.8C250.7,385.4 248.3,387.6 246.7,388.8C245.2,390.1 241.5,391.2 240.4,392.5C239.3,393.8 239.6,396.9 238.9,397.9C238.3,399 236.7,399.9 235.8,399.8C234.9,399.6 233,398.1 232.5,397C232,396 232.4,393.1 232.3,392.5"/>
<path d="M274.2,396.1C272.5,396.8 264.5,398.7 262.3,400.7C260.1,402.7 258.6,407.6 258.7,410.2C258.8,412.9 262.1,417.6 263.2,419.3C264.2,421.1 264.9,422.4 266.2,422.5C267.5,422.6 271.5,419.6 272.4,420.2C273.4,420.9 272.2,426.1 272.9,427.1C273.5,428 276.3,426.9 276.9,426.8"/>
<path d="M276.9,426.8C277.4,427.8 280.5,432.1 280.9,433.9C281.4,435.7 280.4,437.7 280.2,439.3C280,441 279.4,443.7 279.5,445.3C279.7,446.9 281.2,449.1 281.3,450.7C281.3,452.3 280.1,455.8 279.9,456.6"/>
<path d="M279.9,456.6 277.2,460.5"/>
<path d="M279.9,456.6C280.6,457.6 283.9,461.5 284.7,463.5C285.5,465.4 284.9,467.8 285.5,470.3C286.1,472.7 288.2,479.3 289.1,480.8C290.1,482.2 291.5,480.8 291.9,480.8"/>
<path d="M276.9,426.8C277.7,426.7 281.5,426.4 283.2,425.7C284.9,425 287.5,422.6 289,422.1C290.5,421.5 293,420.4 293.7,421.6C294.5,422.8 292.8,428.4 294.3,430.2C295.7,432 301.5,433.2 303.7,434.3C306,435.5 308.4,437.7 310,438.4C311.6,439.2 314,438 314.9,439.8C315.8,441.6 315.1,449.6 316.3,451.2C317.5,452.8 322.2,450.4 323.4,451.2C324.6,452 324.2,455.5 324.7,456.6C325.3,457.7 327.1,457.4 327.3,458.9C327.6,460.4 326.8,465.7 326.6,467.1C326.4,468.5 326.1,468.7 326,468.9"/>
<path d="M326,468.9C325.4,468.3 324,465.2 322,464.8C320,464.4 313.6,464.3 311.9,466.2C310.1,468.1 310,476.4 309.6,478"/>
<path d="M291.9,480.8C292.4,480.1 293.8,476.6 295.3,476.2C296.7,475.8 300.1,477.8 302.2,478C304.2,478.3 308.6,478 309.6,478"/>
<path d="M291.9,480.8C291.4,481.9 288.4,485.8 288.2,488.5C288,491.2 290.7,496.6 290.5,499.9C290.3,503.1 287.4,508.3 286.9,511.2C286.4,514.1 286.4,517.8 287,520.4C287.6,522.9 290.2,526.6 290.8,529.5C291.5,532.4 291.4,537.6 291.7,540.8C291.9,544 292.1,549 292.5,552.2C292.9,555.4 293.5,560 294.5,563.5C295.4,567 297.8,573.5 299.2,577C300.7,580.5 303.9,585.3 304.8,588.2C305.8,591 305.7,594.8 305.8,597C305.9,599.2 304.9,602.1 305.6,603.7C306.4,605.2 309.6,606.8 310.9,608.1C312.1,609.3 312.1,611.6 314.4,612.4C316.7,613.2 325.3,613.5 327.1,613.7"/>
<path d="M309.6,478C310.7,479.1 314.4,483.5 316.8,485.3C319.2,487.1 324.5,489.7 326.5,490.8C328.5,491.8 330.8,491.2 331.1,492.6C331.3,494 327.3,499.6 328.4,500.8C329.4,502 336.5,502.3 338.6,501.2C340.6,500.2 342.3,494.6 342.9,493.5"/>
<path d="M326,468.9C326.3,470.2 326.5,476.2 328.1,477.6C329.6,479 335.4,477.7 336.9,478.9C338.4,480.2 337.6,485.1 338.5,486.2C339.4,487.3 342.6,485.6 343.2,486.7C343.9,487.7 343,492.5 342.9,493.5"/>
<path d="M342.9,493.5C343.4,494.1 346,496.6 346.6,497.6C347.2,498.6 348,499.6 347,500.8C346.1,501.9 341.8,503.9 340.1,505.8C338.3,507.7 335.4,513.2 334.6,514.4"/>
<path d="M334.6,514.4C335.6,514.9 339.5,516.6 341.4,517.6C343.3,518.7 346.3,520.5 347.9,521.7C349.6,522.9 352.2,525 353.1,526.3C353.9,527.5 353.8,529.8 353.9,530.4"/>
<path d="M334.6,514.4C334.5,515.6 333.9,520.2 333.9,522.6C334,525.1 335,530.4 335.2,531.7"/>
<path d="M285.6,371.5C286,371.8 287.5,373.1 288.4,373.4C289.2,373.6 290.3,374.1 291.6,373.4C292.9,372.6 297,370 297.7,367.9C298.4,365.8 295.9,359.6 296.7,358.3C297.5,357.1 301.2,359.1 303.1,358.8C305,358.5 308.8,357.3 310,356.5C311.2,355.7 311.1,353.8 311.3,353.3"/>
<path d="M311.3,353.3C310.9,352.9 308.5,351.6 308.6,350.2C308.6,348.7 310.7,344.9 311.6,343.3C312.6,341.8 314.9,339.8 315.4,339.2"/>
<path d="M311.3,353.3C311.7,353.8 313.9,354.7 314.4,356.5C314.9,358.4 314.1,364.5 314.6,366.5C315.1,368.5 316.8,370.1 317.8,370.6C318.7,371.1 319.5,370.5 321,370.2C322.4,369.9 326.9,368.6 327.8,368.4"/>
<path d="M327.8,368.4C327.4,367.5 325.6,363.3 324.7,362C323.9,360.6 321.9,360.2 322,358.8C322,357.4 324.5,353.3 325,352C325.5,350.7 325.4,350 325.4,349.7"/>
<path d="M327.8,368.4C328.2,368.3 329.2,368.2 330.2,367.9C331.3,367.6 334.7,366.7 335.5,366.5"/>
<path d="M335.5,366.5C335.7,365.8 337,362.8 337.2,361.1C337.3,359.3 336.4,355.7 336.6,354.2C336.7,352.8 338,351.1 338.3,350.6"/>
<path d="M335.5,366.5C336.5,366.6 340.6,368.1 342.3,367C344,365.9 346.6,360 347.3,358.8"/>
<path d="M657.1,68.2C655.9,67.6 650.5,64.4 648.3,63.7C646.2,63 644,63 642,63.3C640,63.6 636.5,64.9 634.2,65.5C631.9,66.2 627.8,67.3 625.8,67.8C623.8,68.4 621.7,68.6 620.1,69.3C618.5,70 615.8,71.6 614.4,72.8C613,74 611.4,76.4 610.1,77.8C608.9,79.3 606.8,81.7 605.7,83C604.7,84.3 603.8,85.8 602.7,87C601.6,88.1 599.6,90 598.1,91C596.6,92 593.9,93.2 591.9,94.2C589.8,95.2 585.5,96.6 583.9,97.9C582.3,99.2 580.9,101.6 580.5,103.2C580.1,104.9 580.6,108.1 580.9,109.5C581.1,110.8 581.5,112 582.3,112.8C583.1,113.7 585.2,115.6 586.5,115.8C587.7,116 590.1,115.1 591.4,114.5C592.6,113.9 594.4,112.2 595.3,111.6C596.3,110.9 597.3,110 597.9,109.9C598.6,109.8 599.6,110.2 600.2,111.2C600.8,112.2 601.4,115.2 602.2,117.1C602.9,118.9 604.9,122.9 605.5,124.3C606.1,125.7 605.5,126.6 606.2,126.9C606.9,127.2 609.2,126.9 610.5,126.4C611.8,125.9 614.4,124.3 615.5,123.4C616.5,122.5 617.3,121.1 617.7,120C618.1,118.9 617.8,116.9 618.2,115.8C618.6,114.7 619.9,113.3 620.7,112.4C621.4,111.5 623.8,110.6 623.8,109.5C623.7,108.4 620.9,106.4 620.3,104.9C619.7,103.4 619.3,100.4 619.4,99.1C619.6,97.9 620.6,97.1 621.5,96.3C622.4,95.4 624.9,93.8 626,93C627.1,92.3 628.2,91.8 629,91C629.7,90.1 630.5,87.9 631.1,87C631.8,86.1 632.5,85 633.7,84.6C634.8,84.1 637.9,83.4 639.4,83.8C640.8,84.1 643.4,86.1 643.6,87C643.9,87.8 642.2,88.9 641.2,89.8C640.1,90.6 637.5,92.3 636.2,93C635,93.8 633,94.2 632.4,95C631.8,95.9 632,98 632,99.1C632.1,100.3 632.9,102.4 633,103.2C633,104.1 632.1,104.9 632.5,105.3C632.9,105.7 634.9,105.7 635.8,106.2C636.6,106.6 636.9,108.2 638.2,108.2C639.4,108.3 642.7,107 644.4,106.6C646.2,106.2 649.1,105.6 650.7,105.3C652.3,105.1 654.1,104.6 655.4,104.9C656.8,105.3 660.1,107.2 660,107.8C659.8,108.4 656.1,108.9 654.3,109.1C652.6,109.2 649.4,109 647.9,109.1C646.4,109.2 644.9,109.7 643.8,109.9C642.7,110.1 640.5,110.2 640,110.7C639.5,111.3 639.7,113.1 640.2,113.7C640.7,114.2 643.1,113.8 643.6,114.5C644,115.2 643.5,118 643.3,118.8C643.1,119.5 643,119.8 642.4,120C641.8,120.2 639.8,120.4 639.1,120C638.4,119.6 638,117.4 637.2,117.1C636.5,116.8 634.7,117.2 634,117.9C633.4,118.6 632.8,121.1 632.7,122.2C632.5,123.2 633.6,124.6 633.2,125.6C632.8,126.5 630.3,128.2 629.7,129C629.1,129.8 629.5,130.9 628.8,131.2C628.2,131.5 625.8,131.4 625.1,131.2C624.4,130.9 625,129.5 624,129.4C623,129.4 619.9,130.2 618,130.7C616.1,131.3 612.1,133.3 610.6,133.3C609.2,133.3 609,130.9 607.9,130.7C606.8,130.5 604,131.7 602.9,132C601.7,132.3 600.4,133.1 599.5,132.9C598.5,132.7 596.8,131.3 596.1,130.7C595.4,130.1 594.5,129.2 594.5,128.6C594.4,128 595.1,127.2 595.5,126.4C595.9,125.7 596.7,124 597.2,123.4C597.7,122.8 599.2,122.6 599.2,122.2C599.2,121.7 597.3,120.8 597.2,120C597.1,119.3 598.6,117.2 598.2,117.1C597.8,116.9 595.7,118.6 594.6,119.2C593.5,119.7 590.9,119.9 590.3,120.9C589.6,121.8 589.6,124.9 589.8,126C590,127.2 591.1,128 591.4,129C591.7,130 592.1,132.1 592,132.9C592,133.7 591.8,134.3 591,134.6C590.2,135 587.7,135.4 586.5,135.5C585.3,135.6 583.6,135.2 582.5,135.5C581.3,135.7 579.2,136.4 578.3,137.2C577.4,138.1 576.7,140.6 576.1,141.6C575.4,142.6 574.4,143.6 573.5,144.2C572.7,144.8 570.9,145.2 570,145.5C569.1,145.8 567.4,145.8 566.8,146.4C566.3,146.9 567.1,148.7 566.3,149.5C565.6,150.3 563,151.6 561.6,152.1C560.2,152.6 557.5,153 556.7,153C555.8,152.9 555.6,151.2 555.3,151.7C555.1,152.1 555.8,155.5 555,156.1C554.3,156.6 551.7,155.4 550.1,155.6C548.6,155.8 544.7,156.8 544,157.4C543.3,158 544.2,159.4 545.2,160.1C546.2,160.8 549.9,161.2 551.4,162.3C552.9,163.4 555.1,166.4 555.7,168.1C556.2,169.7 555.7,172.2 555.3,173.9C554.9,175.5 554.5,179 553.1,179.7C551.7,180.5 547.6,179.4 545.5,179.3C543.4,179.1 540.4,178.9 538.3,178.8C536.1,178.7 532.1,178 530.3,178.4C528.6,178.8 526.2,180.4 525.7,181.5C525.2,182.6 526.6,184.7 526.7,186C526.9,187.3 527.2,188.5 526.7,190.5C526.2,192.6 523.4,198.8 523.2,200.5C523,202.1 525.2,201.1 525.3,202.3C525.5,203.4 523.8,207.9 524.5,208.6C525.2,209.4 528.8,207.5 530.2,207.7C531.5,207.9 532.9,209.2 533.8,210C534.7,210.8 535.5,213.2 536.6,213.2C537.7,213.2 539.5,210.4 541.3,210C543.1,209.5 547.6,210.6 549.6,210C551.6,209.4 554.1,207.2 555.4,205.9C556.7,204.6 558.7,202.1 559,200.9C559.3,199.7 556.9,198.6 557.3,197.3C557.7,196 560.3,193.1 561.6,191.9C563,190.7 565.6,189.7 566.9,188.7C568.2,187.7 570.2,185.7 570.8,184.7C571.3,183.6 570.1,181.8 570.5,181.1C571,180.3 572.7,179.4 573.9,179.3C575,179.1 577.2,180 578.6,180.2C579.9,180.4 582.2,180.9 583.3,180.6C584.4,180.4 585.1,179.1 586.3,178.4C587.4,177.6 590.3,175.4 591.7,175.2C593.2,175.1 595.6,176.5 596.4,177.5C597.2,178.4 596.7,180.8 597.5,182C598.3,183.1 601.1,184.6 602.2,185.6C603.3,186.5 603.9,187.9 605.2,188.7C606.4,189.5 609.8,190.7 611.1,191.4C612.4,192.2 613.2,193.3 614.1,194.1C614.9,195 616.5,196.4 617.1,197.3C617.7,198.2 618.3,199.5 618.3,200.5C618.2,201.4 616.6,203.8 616.8,204.1C617.1,204.4 619.1,202.9 619.8,202.3C620.5,201.6 621.9,200.4 622,199.6C622,198.7 620.1,197.4 620.1,196.4C620,195.4 620.6,192.8 621.5,192.8C622.3,192.7 625.6,195.8 626.3,195.9C627.1,196.1 627.5,194.8 627,194.1C626.6,193.4 624.5,191.9 623.3,191C622,190 619.2,188 618.4,187.4C617.6,186.7 618.2,186.6 617.6,186.5C617.1,186.3 615.6,186.8 614.7,186.5C613.8,186.1 611.8,184.8 611,183.8C610.2,182.7 609.7,180.2 608.8,179.3C607.9,178.3 605.4,178.2 604.8,177C604.1,175.9 603.4,172.2 604,171.2C604.6,170.2 608.4,169.7 609,169.9C609.7,170.1 608.3,172.4 608.7,172.5C609.1,172.7 611.1,170.7 611.9,171.2C612.8,171.7 613.5,175 614.5,176.1C615.5,177.3 617.7,178.4 618.9,179.3C620.2,180.1 622.3,181.3 623.4,182C624.5,182.7 625.8,183.6 626.7,184.2C627.7,184.9 629.6,185.3 630.1,186.5C630.6,187.7 630,191.4 630.3,192.8C630.7,194.2 632,195.4 632.7,196.4C633.4,197.4 634.7,198.7 635.4,199.6C636,200.5 636.8,201.4 637.4,202.7C637.9,204.1 638.7,207.9 639.5,209.1C640.2,210.3 641.8,211.2 642.6,211.4C643.4,211.6 645,211.2 645.2,210.5C645.3,209.7 643.5,207.2 643.5,206.4C643.5,205.5 644.3,204.7 644.9,204.6C645.5,204.4 647.8,205.8 648,205.5C648.1,205.1 646.9,202.9 646.3,201.8C645.7,200.8 644.1,199.5 643.5,198.2C642.9,196.9 641.7,193.2 642.1,192.8C642.6,192.3 645.8,195.3 646.7,195C647.6,194.8 647.6,191.5 648.7,191C649.8,190.5 653.7,191 654.6,191.4C655.6,191.8 654.7,193.7 655.5,193.7C656.3,193.6 658.7,191.4 660.1,191C661.6,190.5 666.3,189.9 665.6,190.5C665,191.1 656.7,194 655.6,195C654.5,196.1 657.7,197.2 658,198.2C658.3,199.2 658.1,201.6 657.9,202.3C657.7,202.9 656,201.8 656.4,202.7C656.8,203.6 659.4,207.6 660.5,208.6C661.6,209.7 662.9,209.6 664,210C665,210.4 666.5,211.4 667.8,211.4C669.1,211.3 671.5,209.6 673,209.5C674.4,209.5 676.7,210.5 678.3,210.9C679.9,211.4 682.7,212.9 684.1,212.7C685.5,212.5 686.8,209.9 688,209.5C689.2,209.2 691.7,210.3 692.6,210.5C693.5,210.6 694,210 694.1,210.5C694.2,210.9 693.4,212.6 693.2,213.6C693.1,214.7 693.2,216.8 693.2,217.7C693.2,218.7 693.5,219.7 693.4,220.5C693.3,221.2 692.8,221.9 692.5,222.7C692.2,223.6 691.5,225.5 691.2,226.4C691,227.3 690.8,228.3 690.7,229.1C690.5,229.9 690.4,231.1 690.1,231.8C689.8,232.6 689.2,234 688.7,234.6C688.2,235.1 687.5,235.3 686.5,235.5C685.5,235.6 682.6,235.6 681.9,235.5C681.1,235.3 681.9,234.8 681,234.6C680.2,234.3 677.2,233.6 676,233.6C674.7,233.6 673.3,234.2 672.2,234.6C671.1,234.9 670,236.4 668.5,236.4C666.9,236.3 663.5,234.6 661.4,234.1C659.3,233.7 655.5,233.6 653.7,233.2C652,232.8 650.2,232 649,231.4C647.9,230.7 646.8,229.2 645.5,228.6C644.2,228.1 641.7,227 640.1,227.3C638.5,227.5 634.9,229.2 634.1,230.5C633.2,231.7 634.3,234.7 633.8,235.9C633.3,237.1 632.2,239 630.8,239.1C629.4,239.2 626.2,237.6 624.2,236.8C622.2,236.1 617.7,234.6 616.5,233.6C615.2,232.7 616.5,230.9 615.3,230C614,229.1 609.6,227.9 607.6,227.3C605.6,226.7 602.4,226.5 601.1,225.9C599.8,225.3 599.2,223.7 598.5,223.2C597.7,222.7 595.8,222.9 595.8,222.3C595.8,221.7 597.9,219.9 598.5,219.1C599,218.2 599.7,217.2 599.6,216.4C599.5,215.5 597.8,214.2 597.7,213.2C597.6,212.1 599,209.6 598.9,209.1C598.7,208.6 597.2,209.8 596.6,209.5C596,209.3 595.7,207.3 594.7,207.3C593.8,207.2 591.3,208.8 590.2,209.1C589.2,209.3 588.4,209.2 587.2,209.1C586,209 583,208.1 581.6,208.2C580.2,208.2 578.8,209.3 577.1,209.5C575.3,209.7 571.6,209.3 569.5,209.5C567.5,209.7 564.4,210.3 562.7,210.9C561,211.5 559.1,213.3 557.7,214.1C556.3,214.9 554.3,215.9 553.1,216.4C551.9,216.8 550.2,217.3 549.2,217.3C548.3,217.3 547.2,216.4 546.2,216.4C545.3,216.3 543.6,217.2 542.4,216.8C541.2,216.4 538.7,214 537.7,213.6C536.7,213.2 536,213.4 535.4,214.1C534.8,214.8 534.2,217.5 533.6,218.6C533.1,219.8 532.2,221.5 531.5,222.3C530.7,223 529.3,223.6 528.3,224.1C527.3,224.6 525.4,225.2 524.4,225.9C523.4,226.6 522.2,228 521.5,229.1C520.8,230.2 519.6,232.4 519.3,233.6C519,234.9 519.7,236.8 519.4,238.2C519.1,239.6 518.1,242.4 517.2,243.7C516.3,244.9 514.7,245.9 513.1,246.8C511.6,247.8 507.7,249 506.4,250C505,251.1 504.7,253 503.8,254.1C502.8,255.2 500.6,256.4 499.7,257.8C498.8,259.1 498.3,262.1 497.4,263.7C496.5,265.3 494.2,267.6 493.2,269.1C492.3,270.7 491.7,272.9 491,274.6C490.4,276.3 488.8,279.8 488.8,281.4C488.7,283 490.2,284.7 490.5,286C490.9,287.3 491.3,289.2 491.5,290.5C491.8,291.8 492.3,293.5 492.2,295.1C492,296.7 491.2,299.8 490.3,301.9C489.4,304 485.9,308.2 485.6,310.1C485.4,312 487.8,314.1 488.3,315.6C488.7,317 488.1,319 488.5,320.1C489,321.2 490.3,322.2 491.2,323.3C492.2,324.4 493.9,326.4 495.1,327.9C496.4,329.3 499.2,332.3 500.2,333.8C501.2,335.3 501.5,337 502.1,338.3C502.8,339.6 503.9,341.8 504.9,342.9C505.8,344 507.9,345.3 508.9,346.1C509.8,346.8 510.4,347.3 511.6,348.3C512.9,349.4 515.8,352.1 517.6,353.3C519.4,354.6 522.5,356.7 524.4,357C526.3,357.2 528.8,355.7 530.8,355.2C532.9,354.6 536.9,353.5 538.9,353.3C540.9,353.2 543.8,353.9 544.9,354.2C546,354.6 545.5,356 546.9,355.6C548.3,355.2 553.1,352.4 554.9,351.5C556.8,350.6 558.3,349.7 559.8,349.2C561.2,348.8 563.7,348.5 565,348.3C566.2,348.1 567.5,347.8 568.6,347.9C569.7,347.9 571.9,348 573,348.8C574.1,349.6 575.8,352.1 576.6,353.3C577.5,354.6 578,356.9 579,357.4C580,357.9 582.5,357.2 583.8,357C585.1,356.8 587.3,356.1 588.3,356.1C589.2,356 590,356.1 590.7,356.5C591.3,357 592.6,358.3 593.1,359.3C593.6,360.2 594.2,362.1 594.3,363.3C594.4,364.6 594.1,366.6 593.9,367.9C593.6,369.2 592.9,371.4 592.7,372.4C592.4,373.5 592.6,374.5 592.3,375.6C591.9,376.7 590.1,378.5 590.2,380.2C590.4,381.9 592.2,385.4 593.5,387.5C594.7,389.5 597.8,393.2 599.1,394.7C600.3,396.3 601.6,397.2 602.3,398.4C603,399.6 603.6,402.5 603.9,403.4C604.2,404.3 603.9,403.5 604.3,404.8C604.8,406 606.6,410.8 607.1,412.5C607.6,414.2 607.5,415.2 607.9,417C608.4,418.9 610.1,423.4 610.3,425.7C610.5,428 609.8,431.6 609.1,433.4C608.3,435.2 605.9,436.6 605.1,438.4C604.3,440.2 603.9,443.8 603.5,446.2C603.1,448.6 601.9,452.5 602.3,455.3C602.7,458 604.7,462.3 606.2,465.7C607.7,469.2 612,477.1 612.9,479.4C613.8,481.6 612.6,479 612.9,481.7C613.2,484.3 613.7,494.4 614.7,498.1C615.8,501.7 619.3,504.6 620.5,507.2C621.7,509.7 622.5,513.6 623.5,515.8C624.4,518 626.8,521 627.2,522.6C627.5,524.2 625.9,525.8 625.9,527.2C626,528.6 626.3,531.5 627.4,532.6C628.4,533.8 631.4,535.4 633.4,535.4C635.4,535.3 639,532.6 641.4,532.2C643.9,531.7 648.7,532.2 650.6,532.2C652.5,532.1 652.9,532.4 654.8,531.7C656.6,531 661.3,529.1 663.8,527.2C666.2,525.2 670.5,520.1 672.3,518.1C674.1,516.1 674.9,514.8 676.4,513.1C677.9,511.3 681.4,508.3 682.6,505.8C683.7,503.3 682.8,498.1 684.6,495.3C686.4,492.5 693.6,488.8 695.2,486.2C696.7,483.6 695.8,479.8 695.5,477.1C695.3,474.4 692.7,469.7 693.5,467.1C694.4,464.5 699.1,460.7 701.7,458.5C704.4,456.2 710.1,453.2 712.3,451.2C714.6,449.2 717.1,446.7 717.7,444.4C718.4,442 716.9,437.6 716.8,434.8C716.8,432 717.5,427.2 717.1,424.8C716.7,422.4 714.7,420.3 714,418C713.4,415.6 713.1,409.9 712.6,407.9C712.1,406 710.7,405.7 710.6,404.3C710.6,403 711.8,399.7 712.3,398.4C712.8,397.1 713.8,396.4 714.4,395.2C714.9,394 715.4,391.2 716.4,389.7C717.4,388.3 720.3,386.7 721.7,385.2C723,383.6 724.3,380.7 725.7,378.8C727.1,377 730.1,373.5 731.7,372C733.3,370.4 735.2,369.8 736.9,367.9C738.6,366 741.9,361.2 743.7,358.8C745.5,356.3 748,353.2 749.6,350.6C751.1,348 753.3,343 754.6,340.6C755.8,338.2 757.7,335.3 758.4,333.8C759.1,332.2 759.3,331.2 759.5,329.7C759.7,328.2 761.3,323.9 760.1,323.3C758.9,322.7 753.4,325.1 751,325.6C748.6,326 745.3,325.9 743,326.5C740.8,327.1 737.1,329.9 735.1,329.7C733.1,329.5 730,326.5 729,325.1C728,323.8 728.6,321.3 728,320.1C727.4,318.9 726.1,318 724.7,316.5C723.4,315 720.3,311.1 718.5,309.6C716.8,308.2 713.6,307.7 712.4,306C711.3,304.3 711.3,299.4 710.1,297.4C708.9,295.4 705.1,293.3 704,291.9C702.9,290.5 703,289.6 702.6,287.8C702.3,286 702.4,281.7 701.5,279.2C700.7,276.6 697.4,272 696.5,270.1C695.5,268.1 696.2,267.5 695.1,265.5C694,263.5 690,258.1 688.8,255.9C687.6,253.8 687.4,252.6 686.6,250.5C685.7,248.4 682.6,241.4 682.6,240.9C682.5,240.5 685.4,245.9 686.4,247.3C687.4,248.7 688.9,251.1 689.7,250.5C690.4,249.8 691.2,242.9 691.6,242.8C691.9,242.6 691.3,247.3 692.3,249.6C693.4,251.8 697.3,256.3 698.7,258.7C700.1,261.1 701,264.5 702.2,266.4C703.4,268.3 706.1,270.5 707.1,272.3C708.2,274.1 708.6,276.9 709.8,279.2C711,281.4 714,285.7 715.7,288.3C717.4,290.8 720.6,295.1 722,297.4C723.4,299.6 724.7,301.5 725.5,304.2C726.3,306.9 727.1,314.3 727.5,316.5C728,318.6 727.8,318.9 728.8,319.2C729.8,319.5 732.3,319.6 734.8,318.7C737.3,317.9 744.2,314.4 746.6,313.3C748.9,312.2 748.9,312.3 751.2,311C753.5,309.7 760.2,305.8 762.9,304.2C765.5,302.6 768,300.8 769.7,299.6C771.5,298.5 773.9,297.2 775.5,296C777.1,294.8 779.9,292.5 781.1,291C782.3,289.4 783,286.8 783.9,285.1C784.7,283.4 786.4,280.6 787.4,279.2C788.4,277.7 791.2,276 791,274.6C790.8,273.3 787.5,270.8 785.9,269.6C784.2,268.4 780.6,267.3 779.3,266.4C778.1,265.5 777.2,264.5 776.7,263.2C776.3,261.9 776.5,257.8 776.2,257.3C775.9,256.9 775.4,259.4 774.9,260C774.3,260.7 773.2,261 772.3,261.9C771.4,262.7 770.2,265.3 768.7,266C767.3,266.7 763.6,266.8 762.1,266.9C760.7,266.9 758.8,267.5 758.2,266.4C757.6,265.3 758.1,259.9 757.6,259.1C757.1,258.4 755,260.2 754.7,261C754.3,261.7 755.2,264.3 754.9,264.1C754.5,263.9 752.7,260.8 752.2,259.6C751.7,258.4 752,256.8 751.1,255.5C750.2,254.2 747,251.8 746,250.5C745,249.1 744.6,247 744,245.9C743.5,244.8 742.2,243.5 742.2,242.8C742.2,242 743.1,240.9 743.9,240.5C744.7,240.1 746.6,239.6 747.7,240C748.9,240.5 751.2,242.8 751.9,243.7C752.7,244.5 752.4,244.8 753.3,245.9C754.3,247.1 757,250.6 758.6,251.9C760.2,253.1 763,254.5 764.7,255C766.4,255.6 769,255.7 770.6,255.5C772.1,255.3 774.3,253.6 775.5,253.7C776.6,253.7 777.5,255 778.4,255.9C779.3,256.9 780.5,259.7 782,260.5C783.4,261.3 786.6,261.1 788.7,261.4C790.8,261.7 794.1,262.7 796.6,262.8C799.1,262.8 803.6,262.1 806.3,261.9C809.1,261.7 814.4,261.1 816,261.4C817.7,261.7 817.4,263.1 818.3,264.1C819.2,265.2 821.7,267.7 822.7,268.7C823.6,269.7 823.7,270.8 824.9,271.4C826.1,272.1 830.6,272.7 831,273.2C831.3,273.8 826.8,274.2 827.2,275.5C827.6,276.8 831.9,281.6 833.7,282.3C835.6,283.1 839.2,281.5 840.3,280.5C841.4,279.6 841,275.4 841.4,275.5C841.7,275.6 842.4,279.3 842.7,281.4C843,283.6 843,288 843.6,290.5C844.1,293.1 845.6,297.4 846.3,299.6C847.1,301.9 848,304.2 848.9,306.5C849.7,308.7 851.4,313.2 852.3,315.6C853.3,317.9 854.5,321 855.6,323.3C856.7,325.6 858.9,329.2 860,331.5C861.1,333.7 862.8,338 863.5,339.2C864.3,340.5 864.9,340.5 865.6,340.1C866.2,339.8 867.3,337.3 868.2,336.5C869.2,335.7 871.3,335.6 872.2,334.7C873,333.8 874,331.5 874.3,330.1C874.7,328.7 874.3,326.5 874.4,324.7C874.6,322.9 875.6,319.6 875.6,317.4C875.6,315.1 874.3,310.6 874.5,308.7C874.8,306.9 876.2,305.3 877.3,304.2C878.4,303.1 881,302.1 882.2,301C883.4,299.9 884.4,298.1 885.7,296.5C887,294.8 890,290.8 891.7,289.2C893.3,287.6 896.2,286.4 897.1,285.1C898.1,283.8 897.7,281 898.5,280.1C899.4,279.1 901.7,278.6 903.1,278.2C904.4,277.9 906.9,278.2 908.1,277.8C909.4,277.4 910.5,275.8 911.8,275.5C913,275.2 915.8,274.5 916.9,275.5C918,276.5 918.9,281.2 919.8,282.8C920.6,284.4 921.7,285.5 923,286.9C924.3,288.3 927.8,290.5 928.9,292.8C929.9,295.1 929.7,301.5 930.5,303.3C931.2,305 933.1,305.3 934.2,305.1C935.4,304.9 937.6,302.5 938.7,301.9C939.7,301.3 940.9,300 941.7,301C942.5,302 943.4,306.7 944.2,308.7C944.9,310.8 946.1,313.6 946.8,315.6C947.5,317.5 948.6,320.1 949,322.4C949.4,324.6 949.7,329.2 949.6,331.5C949.6,333.7 948.9,336.9 948.8,338.3C948.8,339.7 948.7,340.5 949.4,341.5C950.1,342.5 952.9,344 954,345.1C955.1,346.3 956.8,348.7 957.4,349.7C958,350.7 957.6,351.1 957.9,352.4C958.2,353.7 958.8,357.2 959.3,358.8C959.9,360.4 960.9,362.6 961.9,363.8C962.8,365 964.7,366.4 966,367.4C967.2,368.5 969.7,370.6 970.9,371.1C972,371.5 973.9,371.4 974.1,370.6C974.2,369.9 972.5,367.2 972,365.6C971.4,364.1 970.6,361.5 970.2,359.7C969.8,357.9 969.9,354.4 969.2,352.9C968.4,351.3 966.1,349.8 965,348.8C963.9,347.8 962.2,346.3 961.2,345.6C960.2,344.9 958.7,344.8 957.9,343.8C957.1,342.7 956.4,339.6 955.6,338.3C954.9,337 953.2,336 952.6,334.7C952.1,333.4 951.7,330.8 951.9,329.2C952.1,327.6 953.5,325.1 953.8,323.3C954.2,321.5 953.8,317.6 954.1,316.5C954.4,315.4 955.4,315.2 956,315.6C956.6,316 957.2,318.4 958.3,319.2C959.4,320 962.5,320.4 963.7,321.5C964.9,322.6 966.1,325.8 966.9,326.9C967.7,328 968.6,328.8 969.5,329.2C970.4,329.6 972.4,328.5 973.1,329.7C973.9,330.8 974.2,336.6 974.8,337.4C975.4,338.2 976.4,336.2 977.5,335.1C978.5,334 981,330.8 982.3,329.7C983.7,328.6 985.7,328.3 986.9,327.4C988.2,326.5 990.8,324.7 991.4,323.3C992,321.9 991.6,319.6 991.3,317.8C991,316.1 990.2,312.9 989.4,311C988.6,309.1 987.1,305.9 985.8,304.2C984.5,302.4 981.6,300.5 979.9,298.7C978.3,296.9 975,293.3 974.2,291.4C973.4,289.6 973.9,287.3 974.2,286C974.6,284.7 975.9,283.3 976.9,282.3C977.9,281.4 979.7,279.6 981.1,279.2C982.6,278.7 985.7,278.4 987.1,279.2C988.5,279.9 990.4,284.4 991,284.6C991.6,284.8 990.4,281.5 991.2,280.5C992,279.6 995.1,278.4 996.7,277.8C998.3,277.1 1001.5,276.3 1002.7,276C1003.9,275.6 1004.1,276 1005.4,275.5C1006.6,275.1 1010,273.8 1011.6,272.8C1013.2,271.8 1015.7,269.7 1016.8,268.7C1017.8,267.7 1018,266.6 1018.9,265.5C1019.8,264.4 1022.4,262.6 1023.1,261C1023.7,259.3 1023.1,255.9 1023.5,254.1C1023.9,252.4 1025.4,250.3 1026,248.7C1026.6,247.1 1028.1,244.1 1027.8,242.8C1027.6,241.4 1024.4,240.1 1024.1,239.1C1023.8,238.1 1026,237 1025.8,235.9C1025.6,234.8 1024.3,233.3 1022.8,231.4C1021.3,229.4 1016.9,224.2 1015.1,222.3C1013.2,220.3 1010.1,219 1009.6,217.7C1009.2,216.4 1010.5,214.4 1011.7,213.2C1013,212 1018.2,210.1 1018.4,209.1C1018.6,208.1 1014.7,206.1 1013,205.9C1011.3,205.7 1008.2,208 1006.6,207.7C1005,207.5 1002.8,205.2 1001.4,204.1C1000,203 996.9,201 996.7,200C996.6,199.1 999,198.6 1000.4,197.3C1001.8,196 1005.4,191.6 1006.8,191C1008.2,190.3 1009.8,191.6 1010.2,192.8C1010.6,194 1008.9,199 1009.6,199.6C1010.3,200.1 1013.7,197.4 1015,196.9C1016.4,196.3 1017.8,194.9 1019.2,195.5C1020.7,196.1 1024.3,199.7 1025.1,200.9C1025.9,202.1 1023.9,203.3 1025,204.1C1026,204.9 1031,205.1 1032.3,206.4C1033.6,207.7 1033.7,211.2 1034.4,213.2C1035.1,215.1 1036.5,219.2 1037.4,220C1038.4,220.8 1040,219.5 1041.3,219.1C1042.5,218.7 1045.7,218.4 1046.2,217.3C1046.8,216.1 1046.2,212.8 1045.1,210.9C1044.1,209 1040.7,206 1038.8,204.1C1036.9,202.2 1032.7,198.8 1032,197.3C1031.3,195.8 1033.3,194.6 1033.9,193.7C1034.6,192.7 1036.3,191.8 1036.8,190.5C1037.2,189.2 1036.6,186 1037,184.7C1037.4,183.3 1038.4,181.4 1039.8,181.1C1041.1,180.7 1044.8,183 1046.4,182.4C1047.9,181.8 1049.7,178.7 1050.5,177C1051.3,175.3 1051.6,172.2 1051.9,170.3C1052.3,168.4 1052.8,165.7 1053.1,163.6C1053.5,161.5 1055,158.1 1054.2,155.6C1053.5,153.1 1049,148.1 1048,145.9C1047,143.8 1047.9,142.1 1047.1,140.7C1046.3,139.3 1044.5,137.1 1042.6,135.9C1040.7,134.7 1035.8,132.5 1033.7,132C1031.5,131.6 1029.3,133.3 1027.6,132.9C1025.9,132.5 1022.5,131 1021.5,129.4C1020.4,127.9 1020.1,124 1020.4,122.2C1020.7,120.3 1023,118.3 1023.8,116.6C1024.6,115 1024.5,111.3 1026.1,110.3C1027.8,109.4 1032.9,110.1 1035.4,109.9C1037.9,109.7 1041.6,108.7 1043.9,108.7C1046.1,108.6 1048.7,109.5 1051.1,109.5C1053.6,109.4 1060.1,109.4 1061.1,108.2C1062.2,107.1 1057.2,102.4 1058.4,101.2C1059.7,100 1067.2,100.5 1069.7,99.9C1072.2,99.4 1073.8,96.6 1075.9,97.1C1078,97.5 1083.3,101.8 1084.5,103.2C1085.7,104.7 1084.3,105.9 1084.3,107.4C1084.4,108.9 1084.7,112.5 1084.6,113.7C1084.5,114.9 1084,114.9 1083.5,115.8C1083.1,116.7 1080.9,118.2 1081.3,120C1081.6,121.8 1084.5,126.1 1086.2,128.6C1087.9,131 1090.8,134.9 1093.1,137.2C1095.5,139.6 1101.1,143.8 1102.7,145.1C1104.3,146.3 1103.8,146.6 1104.1,145.9C1104.5,145.3 1105.3,141.9 1105.1,140.7C1105,139.5 1103.3,138.4 1103,137.2C1102.7,136 1102.5,133.2 1102.9,132C1103.4,130.8 1106.4,129.8 1106.3,128.6C1106.3,127.4 1104,125.1 1102.9,123.4C1101.8,121.7 1099.9,118 1098.5,116.6C1097.1,115.3 1093.7,114.9 1092.7,113.7C1091.8,112.5 1091.3,109.3 1091.7,108.2C1092.1,107.2 1093.2,106.3 1095.8,106.2C1098.4,106 1107.8,107.8 1110,107.4C1112.3,107 1110.8,104.3 1111.5,103.2C1112.3,102.2 1114.3,100.8 1115.5,99.9C1116.6,99.1 1118,97.5 1119.7,97.1C1121.5,96.7 1128.2,98.2 1127.6,97.1C1127,95.9 1117.9,90.2 1115.4,89C1112.9,87.7 1109.5,88.4 1109.8,88.2C1110,87.9 1114.5,87 1117.3,87C1120.1,87 1126.3,87.8 1129.7,88.2C1133,88.6 1139.6,89.9 1141.1,89.8C1142.6,89.6 1140.3,87.9 1140.2,87C1140.2,86 1142.2,84.1 1140.6,83C1139,81.9 1132.1,79.9 1128.8,79C1125.4,78.2 1121.1,77.9 1117,77.1C1112.8,76.2 1103.7,74.1 1099.5,73.2C1095.2,72.2 1090.2,71.2 1086.7,70.5C1083.2,69.8 1078.1,68.6 1074.6,68.2C1071.1,67.8 1063.4,67 1062,67.4C1060.5,67.9 1065.8,71 1064.5,71.3C1063.1,71.5 1055.9,69.3 1052.5,69C1049.1,68.6 1042.8,68.5 1040.4,68.6C1038,68.6 1039,70 1035.6,69.3C1032.2,68.6 1021.2,64.5 1016.5,63.7C1011.8,62.9 1005.5,64 1002.2,63.7C999,63.3 997.4,62.2 993.6,61.4C989.8,60.6 979.7,58.6 975.1,58.1C970.5,57.6 963.3,57.6 961.1,58.1C959,58.6 961.8,61.3 960.1,61.8C958.3,62.3 951.2,61.5 948.7,61.8C946.2,62.1 944.1,63.7 942.3,63.7C940.5,63.7 938.3,62.8 935.9,61.8C933.6,60.7 928,57.4 925.4,56.3C922.8,55.2 919.2,54.1 917.3,54.1C915.3,54.1 913.5,56 911.5,56.3C909.5,56.6 906.7,56.6 903.1,56.3C899.6,55.9 889.7,54.1 886.5,53.7C883.3,53.3 882.7,53.5 880.6,53.4C878.5,53.2 873.7,52.3 871.6,52.6C869.6,52.9 867.6,56 866.3,55.5C864.9,55 862.8,50.8 862.4,49C862,47.3 866.5,44.4 863.6,43.1C860.7,41.8 846.1,39.6 842,39.7C838,39.8 837.6,43 835.3,43.8C833.1,44.6 829.1,44.7 826.2,45.2C823.2,45.6 817.4,46.4 814.5,46.9C811.5,47.4 806.8,48.3 805.3,48.7C803.7,49.1 805.2,49 803.4,49.8C801.7,50.5 793.6,52.6 793.1,54.1C792.6,55.5 799.9,59.4 800,59.9C800,60.5 794.8,58.3 793.1,58.1C791.4,57.9 790,59 788,58.8C785.9,58.7 779.7,56.6 778.4,57C777,57.4 778.1,59.8 778.5,61.8C778.9,63.8 779.8,68.8 781,71.3C782.1,73.7 786.7,77.6 786.5,79C786.4,80.4 781.1,81.8 780,81C779,80.2 779.9,75.6 779,73.2C778.2,70.7 776,66.1 773.9,63.7C771.8,61.3 765.9,56.8 764,56.3C762.1,55.7 761,58.6 760.5,59.9C760,61.3 759.8,63.9 760.6,65.5C761.4,67.1 766.5,70.7 766.3,71.3C766.2,71.8 761.1,69.4 759.6,69.3C758.1,69.2 758.1,70.6 755.8,70.5C753.4,70.3 745.3,68.1 743.1,68.2C740.9,68.3 742,70.5 740,71.3C738.1,72 732.6,72.6 729.1,73.2C725.5,73.7 718.7,74.8 715,75.1C711.4,75.4 705.6,75.4 703.2,75.1C700.8,74.8 698.9,72.6 698.2,73.2C697.5,73.7 698.2,77.6 698.3,79C698.5,80.4 700.2,82.7 699.4,83C698.6,83.3 694.4,80.4 692.9,81C691.3,81.6 689.6,85.5 688.2,87C686.8,88.4 685.1,90.6 683,91C680.9,91.4 675.9,91.2 673.5,89.8C671.1,88.4 665.6,82.2 665.8,81C666,79.8 671.9,81.2 674.9,81.4C677.9,81.6 685.1,82.5 687.1,82.2C689.2,81.8 690,80 689.4,79C688.7,78 684.8,76.2 682.5,75.1C680.2,74 675.5,72 672.8,71.3C670.2,70.5 665.9,70.2 663.8,69.7C661.6,69.3 658.5,68.4 657.7,68.2"/>
<path d="M665.6,190.5C664.8,190.2 662.7,188 662.1,187.4C661.5,186.7 661.8,187 661.6,186C661.4,185.1 660.6,181.8 660.8,180.6C661.1,179.5 662.8,178.6 663.2,177.9C663.5,177.2 662.9,176.6 663.4,175.7C663.9,174.8 665.7,173 666.6,171.6C667.5,170.3 668.9,167.2 669.7,166.3C670.6,165.4 671.6,165.2 672.5,165.4C673.4,165.6 675.2,167.3 676.3,167.6C677.4,167.9 680.2,167.2 680.2,167.6C680.3,168.1 676.6,169.7 676.6,170.8C676.7,171.8 679.7,174.1 680.6,174.8C681.6,175.4 682.3,175.5 683.2,175.2C684.1,174.9 686.1,173.2 687.2,172.5C688.3,171.9 691.2,171.2 691,170.8C690.7,170.3 686.3,170 685.4,169.4C684.6,168.8 684.3,167.4 685.1,166.7C686,166.1 690.2,165.5 691.4,165C692.6,164.5 692.4,163.5 693.6,163.2C694.8,162.9 699.2,162.5 699.6,162.7C700,163 697,164.2 696.3,165C695.7,165.7 695.3,167.2 695,168.1C694.6,169 693.6,170.2 693.9,171.2C694.2,172.2 695.6,174.1 697,175.2C698.3,176.4 701.7,178.1 703.6,179.3C705.6,180.5 709.7,182.6 710.8,183.8C711.9,185 712.4,186.9 711.7,187.8C711.1,188.8 707.8,190.1 706.2,190.5C704.6,191 702.3,191.2 700.3,191C698.4,190.8 694.2,189.9 692.4,189.2C690.5,188.5 688.8,186.5 687.3,186C685.8,185.6 683.3,185.8 681.8,186C680.2,186.3 677.6,187.2 676.4,187.8C675.3,188.4 674.9,189.8 673.7,190.1C672.5,190.3 668.9,189.6 667.8,189.6C666.6,189.7 666.4,190.8 665.6,190.5Z"/>
<path d="M735.3,167.2C733.4,168.1 731.2,168.8 730.4,169.9C729.5,170.9 729.1,173.1 729.4,174.8C729.7,176.4 731.3,179.9 732.4,181.5C733.4,183.2 735.5,184.9 736.8,186.5C738.1,188 740.4,191.3 741.5,192.3C742.6,193.4 744.6,192.9 744.7,193.7C744.7,194.5 742.6,197 742,198.2C741.5,199.4 740.6,201.1 740.8,202.3C741,203.4 742.3,205.3 743.6,206.4C744.9,207.4 747.8,209.2 749.7,209.5C751.6,209.9 755.6,209.4 757.1,209.1C758.7,208.8 760.4,208.6 760.6,207.3C760.8,205.9 759.4,201.3 758.6,199.6C757.8,197.8 755.6,196.5 754.9,195C754.1,193.6 753.7,190.9 753.2,189.6C752.7,188.3 752.4,187.3 751.4,186C750.4,184.7 747.5,182.2 746,180.6C744.6,179 741.6,175.9 741.3,174.8C741.1,173.6 742.9,173.1 744.2,172.5C745.4,172 749.7,172.3 750.4,171.2C751.1,170.1 750,165.6 749,164.5C748,163.4 745.4,163.2 743.5,163.6C741.6,164 737.1,166.3 735.3,167.2Z"/>
<path d="M920.2,143.3C919.9,143.8 923.5,140.9 924.8,139.4C926.1,137.9 928.9,134.9 929.5,132.9C930,130.9 929.2,126.1 928.9,125.1C928.6,124.2 927.4,124.8 927.1,126.4C926.7,128 927.4,134 926.5,136.4C925.5,138.7 920.4,142.9 920.2,143.3Z"/>
<path d="M682.3,379.3C682.6,377.4 684.2,376.1 685.5,375.6C686.8,375.2 690.6,375.3 691.5,376.1C692.5,376.9 692.6,379.8 692.3,381.6C692,383.3 690.8,387.3 689.5,388.4C688.2,389.4 684.5,390.1 683.5,388.8C682.4,387.5 682,381.1 682.3,379.3Z"/>
<path d="M660.6,107.4C660,106.6 663.2,101.8 664.5,101.2C665.7,100.6 669,102.5 669.5,103.2C670.1,104 669.7,106 668.5,106.6C667.2,107.2 661.1,108.2 660.6,107.4Z"/>
<path d="M541.2,149.9C541.4,150.2 545.1,149.4 546.5,149C547.9,148.6 549.4,147.5 550.8,147.3C552.3,147 555.1,147.3 556.7,147.3C558.3,147.2 560.9,147.3 562.3,147C563.6,146.8 565.6,145.9 566.2,145.5C566.8,145.1 566.6,144.4 566.3,144.2C565.9,143.9 563.7,144.5 563.9,143.8C564.1,143 567.7,139.8 567.6,139C567.5,138.1 564,138.2 563.3,137.7C562.5,137.1 562.6,135.8 562.4,135.1C562.2,134.3 562.5,133.1 561.9,132.5C561.4,131.8 559,131.1 558.4,130.3C557.7,129.5 557.7,127.6 557.3,126.9C557,126.1 556.8,125.5 556.2,125.1C555.5,124.8 553.1,124.7 552.9,124.3C552.7,123.9 553.9,122.9 554.4,122.2C555,121.4 556.3,119.8 556.7,119.2C557.1,118.5 558.2,117.8 557.5,117.5C556.9,117.2 553.1,117 552,117.1C550.9,117.1 549.4,118.4 549.6,117.9C549.8,117.4 553.2,114.4 553.6,113.7C554.1,113 553.9,113.1 553.1,113.1C552.2,113 548.7,112.6 547.5,113.3C546.3,114 544.8,116.8 544.3,117.9C543.9,119 544.2,120.4 544.3,121.3C544.3,122.2 544.7,123.4 544.6,124.3C544.4,125.1 542.9,127 543.2,127.3C543.5,127.6 546.3,126.1 546.7,126.4C547,126.7 545.1,129.1 545.7,129.4C546.3,129.8 550,128.8 550.8,129C551.5,129.3 550.7,130.6 550.9,131.2C551.1,131.8 551.9,132.7 552,133.3C552.2,133.9 552.5,135.2 551.8,135.5C551.1,135.8 547.9,135.1 547.1,135.5C546.3,135.9 546.1,137.5 546.1,138.1C546.2,138.7 548.1,139.3 547.7,139.8C547.3,140.4 543.5,141.5 543.3,142C543.2,142.5 545.6,143.1 546.7,143.3C547.7,143.6 550,143.7 550.8,143.8C551.5,143.8 552.4,143.6 552.1,143.8C551.9,143.9 550,144.9 549.3,145.1C548.5,145.3 547.4,144.8 546.8,145.1C546.3,145.3 546.1,146.1 545.3,146.8C544.5,147.5 541,149.6 541.2,149.9Z"/>
<path d="M527,143.3C527.9,143.6 530.4,143.7 532.2,143.3C534,143 538.4,141.8 539.7,140.7C541,139.7 540.7,137.4 541.3,135.9C541.8,134.4 543.5,131.5 543.6,130.3C543.7,129.1 542.6,128.1 541.9,127.7C541.1,127.3 539.3,127.1 538.2,127.3C537.1,127.5 535.3,128.3 534,129C532.6,129.7 529.3,131.1 528.5,132C527.8,132.9 528.3,134.8 528.7,135.5C529.1,136.2 531.3,136.2 531.3,136.8C531.2,137.3 529.3,138.8 528.5,139.4C527.8,140 526.1,140.6 525.9,141.1C525.7,141.7 526.1,143 527,143.3Z"/>
<path d="M538.1,128.6C537.7,128.9 535.8,130.2 535.8,130.7C535.7,131.3 536.8,132.2 537.6,132.5C538.3,132.7 540.5,132.5 541,132.5"/>
<path d="M589,191C589.4,190.4 591.9,189.4 592.7,189.6C593.4,189.9 594.3,191.5 594.5,192.8C594.7,194.1 594.5,197.6 594.1,198.7C593.6,199.7 592.1,200 591.4,200C590.8,200 589.8,199.6 589.6,198.7C589.3,197.8 589.8,194.8 589.7,193.7C589.6,192.6 588.5,191.6 589,191Z"/>
<path d="M590.5,184.2C590.9,183.4 593,181.3 593.5,181.5C593.9,181.8 593.9,185 593.8,186C593.7,187 593.1,188.5 592.7,188.7C592.3,188.9 591.2,188 590.9,187.4C590.5,186.7 590.2,185 590.5,184.2Z"/>
<path d="M604.5,204.6C604.9,204.2 606.5,203.4 608.2,203.2C609.9,202.9 615.5,202.3 616.4,202.7C617.3,203.2 614.9,205.3 614.6,206.4C614.4,207.4 615.3,209.7 614.7,210C614.1,210.3 611.8,208.8 610.5,208.2C609.2,207.6 606.1,206.4 605.2,205.9C604.4,205.4 604.1,204.9 604.5,204.6Z"/>
<path d="M646.5,215.4C647,215.4 648.8,215.7 650.3,215.9C651.8,216.1 656.9,216.5 657.2,216.8C657.4,217.1 653.8,218 652.3,217.9C650.8,217.9 647.4,216.9 646.6,216.6C645.7,216.2 646,215.5 646.5,215.4Z"/>
<path d="M679.9,217.5C679.9,217 681.3,216.5 682.5,216.1C683.7,215.7 687.9,214.3 688.4,214.5C689,214.8 687.2,217 686.4,217.7C685.6,218.4 683.6,219.6 682.7,219.5C681.8,219.5 680,218 679.9,217.5Z"/>
<path d="M599.8,125.6C600.5,125.1 604.2,124 604.8,124.3C605.5,124.5 604.9,126.6 604.5,127.3C604.1,128 602.8,128.9 602.2,129C601.5,129.1 600.2,128.2 599.8,127.7C599.5,127.2 599.1,126.1 599.8,125.6Z"/>
<path d="M595.5,126.4C595.8,126.1 598.1,126.2 598.5,126.4C598.9,126.7 598.8,127.8 598.5,128.1C598.1,128.5 596.6,128.8 596.1,128.6C595.7,128.3 595.1,126.7 595.5,126.4Z"/>
<path d="M875.2,332.4C876,332.2 879.2,336.8 880.3,338.3C881.4,339.8 882.6,341.6 882.9,342.9C883.3,344.2 883.3,346.4 882.7,347.4C882,348.4 879.3,349.8 878.4,349.9C877.4,350.1 876.4,349 875.9,348.3C875.5,347.7 875.4,346.4 875.2,345.1C875,343.9 874.8,341.5 874.8,339.7C874.8,337.9 874.5,332.6 875.2,332.4Z"/>
<path d="M752.1,431.6C753.2,432.8 756.3,443.1 756.2,446.6C756.2,450.2 753.1,453 751.8,456.6C750.5,460.3 748.4,468.4 746.9,472.6C745.5,476.8 742.4,483.6 741.4,486.2C740.4,488.8 741.2,489.7 740,490.8C738.7,491.8 734.5,494.1 732.7,493.5C731,492.9 728.6,488.7 727.7,486.2C726.8,483.8 725.9,478.8 726.3,476.2C726.7,473.6 730.1,470.5 730.6,468C731.1,465.6 729.9,460.8 729.9,458.9C729.8,457 729.3,455.7 730.1,454.4C730.9,453.1 734.1,450.7 735.4,449.8C736.8,449 738,449.4 739.5,448.4C740.9,447.5 744.3,444.9 745.6,443.4C746.9,442 747.7,439.7 748.7,438C749.6,436.3 751,430.4 752.1,431.6Z"/>
<path d="M600.2,111.2C600.5,110.8 601.6,109.3 602.1,108.7C602.7,108 604.2,107.3 604.4,106.6C604.6,105.8 603.9,104.1 603.7,103.2C603.6,102.4 603.4,101.5 603.4,100.4C603.3,99.2 602.6,96.4 603.4,95C604.1,93.7 607.7,92.2 608.6,91C609.5,89.8 609.1,87.8 609.7,86.6C610.4,85.3 612.4,83.5 613.3,82.2C614.1,80.8 614.8,78.3 615.8,77.1C616.8,75.8 618.7,74 620.3,73.2C621.9,72.3 626,71.4 626.9,71.1"/>
<path d="M626.9,71.1C627.4,70.9 629.2,69.9 630.3,70.1C631.5,70.3 633.4,72 634.9,72.4C636.4,72.8 639.7,73.1 640.8,72.8C642,72.5 642.3,70.8 642.9,70.1C643.4,69.4 643.7,68.2 644.6,67.8C645.4,67.4 647.8,67.1 648.9,67.4C650,67.8 651.8,70 652.2,70.5C652.7,71 652.1,71 652,71.1"/>
<path d="M652,71.1C652.5,70.8 654.5,69.4 655.2,69C655.9,68.6 656.8,68.3 657.1,68.2"/>
<path d="M626.9,71.1C627.4,71.4 629.2,72.6 630.6,73.2C632,73.8 635.8,74.7 636.7,75.5C637.7,76.3 637.1,78 637.4,79C637.7,80.1 638.7,82.3 639,83C639.3,83.6 639.3,83.7 639.4,83.8"/>
<path d="M652,71.1C651.9,71.5 650.8,73.2 651.3,74C651.8,74.7 655.2,75.6 655.5,76.3C655.8,77 653.3,77.9 653.5,79C653.8,80.1 656.8,82.9 657.3,84.2C657.8,85.4 656.5,86.8 656.9,87.8C657.3,88.7 658.9,89.9 659.8,91C660.8,92.1 663.6,94.2 663.6,95.4C663.6,96.7 661,98.6 659.6,99.9C658.1,101.3 654.2,104.6 653.3,105.3"/>
<path d="M654.4,109.5C654.2,109.9 652.9,111.4 652.8,112.4C652.7,113.4 653.5,115.9 653.6,116.6C653.7,117.4 653.4,117.7 653.4,117.9"/>
<path d="M643.1,116.2C643.9,116.3 647.2,116.4 648.7,116.6C650.1,116.9 652.7,117.7 653.4,117.9"/>
<path d="M653.4,117.9C653.7,118.5 655.4,121.3 655.9,122.2C656.3,123 657.3,123.4 656.7,123.9C656.1,124.3 652.3,125.3 651.6,125.6"/>
<path d="M632.8,123.9C633.7,123.7 637.5,123.1 639.3,123C641.2,122.9 644.3,123.1 646,123.4C647.8,123.8 650.8,125.3 651.6,125.6"/>
<path d="M651.6,125.6C651.5,126 651.9,127.7 651.5,128.6C651.2,129.4 650,131 649.1,131.6C648.2,132.2 646.2,132.9 645.2,133.1C644.1,133.3 642.3,133.1 641.8,133.1"/>
<path d="M641.8,133.1C641.4,132.9 639.8,132 639.3,131.4C638.8,130.7 639.2,129.1 638.4,128.6C637.7,128 634.6,127.7 634,127.5"/>
<path d="M639.3,131.4 628.8,130.9"/>
<path d="M641.8,133.1C642,133.9 643.5,137.1 643.6,138.5C643.7,140 642.7,142.6 642.5,143.3"/>
<path d="M642.5,143.3C642.8,143.9 644.8,145.8 644.5,147.3C644.3,148.8 641,152.9 640.4,153.9"/>
<path d="M640.4,153.9C639.3,153.8 634.5,153.6 632.7,153.4C630.9,153.3 628.3,153.1 627.4,153C626.6,152.9 626.8,152.6 626.7,152.5"/>
<path d="M626.7,152.5C626,152 623.4,149.7 622,149C620.6,148.3 618.1,148.1 616.8,147.7C615.4,147.3 613.2,146.6 612.6,146.4"/>
<path d="M612.6,146.4C612.5,145.7 612.5,142.9 612.2,141.6C611.8,140.3 610.6,138.4 610.4,137.2C610.2,136.1 610.6,133.9 610.6,133.3"/>
<path d="M612.6,146.4C611.4,146.8 604.4,147.7 603.9,149C603.5,150.3 608.5,154.7 609.2,155.6"/>
<path d="M609.2,155.6C608.8,156.3 607.8,159.7 606.1,160.5C604.5,161.3 599.3,161.3 597.6,161.4C595.9,161.5 594.9,161.4 594.4,161.4"/>
<path d="M594.4,161.4 587.3,161"/>
<path d="M587.3,161C587.6,160.1 590.1,155.9 589.6,154.8C589,153.6 584.2,152.9 583.3,152.5"/>
<path d="M583.3,152.5C583.2,152.2 582.5,150.7 582.3,149.9C582.2,149.1 581.7,147.9 582.1,146.8C582.4,145.7 584.5,143 585,142C585.5,141 585.5,140.7 585.7,139.8C586,139 586.4,136.5 586.5,135.9"/>
<path d="M591.4,129 594.4,129.4"/>
<path d="M582.1,146.8C581.6,146.5 580,144.5 578.7,144.2C577.4,143.9 574,144.4 573.2,144.4"/>
<path d="M570.2,145.5C571,146.2 574.6,149.5 575.7,150.3C576.8,151.1 577.3,150.9 578.1,151.2C578.9,151.5 580.5,152.4 581.2,152.5C581.9,152.7 583,152.5 583.3,152.5"/>
<path d="M587.3,161C586.5,161.8 582.2,165.7 581.8,166.7C581.5,167.8 584.6,168.3 585,168.5"/>
<path d="M585,168.5C584.9,169 583.9,171 583.9,172.1C583.8,173.2 584.5,175.3 584.8,176.1C585.2,177 586.4,177.7 586.6,177.9"/>
<path d="M585,168.5C585.8,168.3 589.2,167.5 590.4,167.2C591.6,166.9 592.3,166.5 593.3,166.3C594.2,166 596.7,165.5 597.2,165.4"/>
<path d="M594.4,161.4C594.4,161.6 594,162.8 594.4,163.2C594.8,163.6 596.8,163.7 597.2,164.1C597.6,164.4 597.2,165.2 597.2,165.4"/>
<path d="M597.2,165.4C598.1,165.1 602,163.6 603.6,163.6C605.3,163.7 608.2,165.5 609,165.8"/>
<path d="M609,165.8 617.5,164.5"/>
<path d="M609,165.8C609,166.3 608.7,168.4 608.7,169C608.7,169.5 609,169.7 609,169.9"/>
<path d="M608.7,170.3C609.5,170.3 613.4,170.9 614.8,170.3C616.1,169.7 617.6,166.5 618.3,165.8C618.9,165.2 619.2,165.8 619.4,165.8"/>
<path d="M617.5,164.5 620.9,159.2"/>
<path d="M609.2,155.6C609.8,155.5 611.9,154.6 613.4,154.8C615,154.9 619.2,156.3 620.2,156.5"/>
<path d="M620.2,156.5 620.9,159.2"/>
<path d="M620.2,156.5 626.7,152.5"/>
<path d="M620.9,159.2C621.8,159.3 625.3,160.4 627,160.1C628.7,159.8 631.2,157.3 632.9,157C634.5,156.6 637.7,157.3 638.5,157.4"/>
<path d="M638.5,157.4 640.4,153.9"/>
<path d="M638.5,157.4 641.5,159.2"/>
<path d="M641.5,159.2C640.7,160.2 637.1,165.6 635.8,166.7C634.6,167.9 633.1,167.3 632.6,167.4"/>
<path d="M632.6,167.4 627.7,168.5"/>
<path d="M627.7,168.5C626.7,168.5 622,168.5 620.8,168.1C619.7,167.7 619.6,166.2 619.4,165.8"/>
<path d="M627.7,168.5C627.7,169.1 627.9,171.9 628.2,172.5C628.4,173.2 629.4,172.9 629.6,173"/>
<path d="M628.2,173C627.1,172.8 622.6,171.8 620.9,171.6C619.3,171.5 617.2,171.3 616.6,171.6C616,172 616.3,173.1 616.7,173.9C617,174.6 618.3,175.9 619.3,177C620.2,178.1 622.3,180.6 623.4,181.5C624.4,182.5 626.2,183.4 626.7,183.8"/>
<path d="M629.6,173C629.6,173.8 629.9,177.3 629.5,178.8C629.1,180.3 627.1,183.1 626.7,183.8"/>
<path d="M632.6,167.4C633.3,168.1 636,171.6 637.2,172.5C638.3,173.5 640.2,173.8 640.9,174.3C641.5,174.8 641.6,175.9 641.7,176.1"/>
<path d="M641.7,176.1C641.8,176.4 641.4,177.6 642.9,177.9C644.3,178.2 649.9,178.6 652,178.4C654,178.2 655.7,176.6 657.3,176.6C658.9,176.6 662.4,178.1 663.2,178.4"/>
<path d="M641.5,159.2C642.3,159.2 645.3,159.8 647.1,159.6C649,159.4 652.5,156.3 654.4,157.8C656.4,159.4 659.4,168.4 661.1,170.3C662.8,172.2 665.8,171.1 666.6,171.2"/>
<path d="M654.4,157.8C655.1,157.8 658.1,157.6 659.4,157.8C660.7,158.1 662.7,158.5 663.8,159.6C664.9,160.8 667.2,164.6 667.2,165.8C667.1,167 664.3,167.4 663.5,168.1C662.6,168.7 661.5,170 661.1,170.3"/>
<path d="M641.7,176.1C641.6,176.9 641,180.3 640.9,181.5C640.8,182.7 641,184.2 641,184.7"/>
<path d="M641,184.7C640.6,184.7 638.7,184.6 637.7,184.9C636.8,185.1 635.3,186.7 634.5,186.5C633.7,186.2 632.9,184.4 632.2,183.3C631.5,182.2 629.9,179.5 629.5,178.8"/>
<path d="M630.1,186.5C630.5,186 631.9,183.3 632.6,183.3C633.2,183.3 634.3,185.4 634.5,186.5C634.8,187.5 634.1,189.8 634.3,190.5C634.5,191.2 636.1,190.9 636.2,191.4C636.3,192 635.3,193.9 634.8,194.6C634.3,195.3 633,196.1 632.7,196.4"/>
<path d="M636.2,191.4C637.2,191.1 641.3,189.6 643.1,189.2C644.9,188.7 647.2,188.5 648.9,188.3C650.7,188 654.4,187.2 655.5,187.4C656.6,187.5 656.8,188.6 656.7,189.2C656.6,189.7 654.9,191.1 654.6,191.4"/>
<path d="M641,184.7 643.1,189.2"/>
<path d="M655.5,187.4 661.6,186"/>
<path d="M642.5,143.3C643.3,143.1 645.6,141.9 647.6,142C649.6,142.1 653.7,143.4 656.4,143.8C659.1,144.1 664.8,145 666.8,144.6C668.9,144.3 670.3,141.6 670.9,141.1"/>
<path d="M656.7,123.9C658,124.2 664.2,125.2 665.6,126C667.1,126.9 665.8,128.6 666.8,129.9C667.8,131.2 671.9,133.5 672.5,135.1C673.1,136.6 671.1,140.3 670.9,141.1"/>
<path d="M670.9,141.1C672,141 676.4,139.6 678.3,140.3C680.2,140.9 682.1,144.5 684.3,145.9C686.5,147.4 691.3,149.5 693.6,150.3C696,151.2 699.8,150.9 700.9,152.1C701.9,153.4 701.9,157.7 701.2,159.2C700.6,160.7 697.1,162.2 696.4,162.7"/>
<path d="M526.7,186.5C527,186.3 527.8,185.6 529,185.6C530.1,185.6 533.7,186.1 534.7,186.5C535.8,186.8 536.3,187.2 536.1,187.8C535.9,188.4 533.8,189.3 533.3,190.5C532.8,191.7 532.9,195.5 532.5,196.4C532.1,197.3 530.7,195.9 530.6,196.9C530.5,197.8 532,201.7 532,203.2C531.9,204.7 530.4,207.1 530.2,207.7"/>
<path d="M553.1,179.7C554.3,180.2 559.9,182.2 561.7,182.9C563.5,183.5 564.4,184 565.7,184.2C566.9,184.4 570.1,184.2 570.8,184.2"/>
<path d="M704.8,179.7C706.1,179.8 711.6,180.2 714,180.6C716.4,181.1 719.5,182 721.6,182.9C723.8,183.7 727.3,185.5 729.1,186.5C731,187.4 733.6,189.6 734.8,189.6C735.9,189.7 736.9,187.3 737.3,186.9"/>
<path d="M711.8,188.3 719,190.1"/>
<path d="M719,190.1C719.8,189.9 723,189.7 724.4,189.2C725.8,188.7 728.5,186.8 729.1,186.5"/>
<path d="M719,190.1C719.2,190.7 719.6,193.7 720.4,194.6C721.2,195.5 724.2,195.3 724.7,196.4C725.2,197.5 723.8,200.7 724,202.3C724.2,203.9 725.8,207 726.1,207.7"/>
<path d="M724.4,189.2C725.4,190.3 730.3,195.8 731.1,197.3C732,198.8 731.3,200.1 730.4,200C729.5,199.9 725.5,196.9 724.7,196.4"/>
<path d="M730.4,200C731.3,199.5 735.1,196.1 736.6,196.4C738,196.7 740.2,201.5 740.8,202.3"/>
<path d="M694.3,213.2C694.6,212.7 695,210.1 695.9,209.5C696.8,209 699,209.5 700.8,209.5C702.5,209.5 706,209.7 708.3,209.5C710.6,209.3 715.9,208.4 717.2,208.2"/>
<path d="M717.2,208.2 726.1,207.7"/>
<path d="M717.2,208.2C716.7,209.7 715.5,216.2 713.8,218.6C712.1,221 706.4,224.1 705.2,225"/>
<path d="M705.2,225C704.2,225.7 699.6,229.6 698,230C696.4,230.5 694.3,228.4 693.6,228.2"/>
<path d="M694.1,219.5C694.5,219.8 696.6,220.5 696.5,221.4C696.5,222.2 694.6,224.7 693.8,225.5C693.1,226.2 691.6,226.2 691.2,226.4"/>
<path d="M693.6,228.2C693.6,229 693.5,231.6 693.3,233.6C693,235.7 692.1,241.5 691.9,242.8"/>
<path d="M688.7,234.6 691.6,242.8"/>
<path d="M692,243.2C692.6,243.3 694.9,244.5 696.3,244.1C697.6,243.7 700.5,241.3 701.5,240.5C702.4,239.6 703.6,239.2 703.2,238.2C702.9,237.2 698.6,234.6 699,233.6C699.5,232.7 705.4,231.8 706.5,231.4C707.7,230.9 707.1,230.6 707.2,230.5"/>
<path d="M707.2,230.5 705.2,225"/>
<path d="M707.2,230.5C708.8,231.1 715.2,233.1 718.4,235C721.5,236.9 727,242.8 729.6,244.1C732.1,245.5 735.6,244.5 736.6,244.6"/>
<path d="M736.6,244.6C737,244 738.9,241.1 739.7,240.5C740.4,239.9 741.6,240.5 742,240.5"/>
<path d="M736.6,244.6C737.3,245 740.4,246.9 741.5,247.3C742.5,247.7 743.8,247.3 744.2,247.3"/>
<path d="M726.1,207.7C726.6,208.5 728.3,211.9 729.1,213.2C729.9,214.5 731.6,215.5 731.8,216.8C731.9,218.1 729.9,220.9 730.1,222.3C730.3,223.7 731.5,225.5 732.9,226.8C734.3,228.1 738.8,230.1 739.9,231.4C740.9,232.7 739.8,234.6 740.4,235.9C740.9,237.2 743.4,239.8 743.9,240.5"/>
<path d="M725.4,302.4C725.8,301.7 726.1,298.3 728,297.8C729.9,297.3 736.6,299.2 739.1,298.7C741.7,298.2 742.5,295.3 745.7,294.2C748.8,293 759.1,291.1 761.3,290.5"/>
<path d="M761.3,290.5C762.9,289.9 770.9,287.9 772.9,286C774.8,284 775,278.6 775,276.9C775,275.1 773.1,274.1 772.8,273.7"/>
<path d="M772.8,273.7C771.4,273.6 764.6,273.8 762.6,272.8C760.5,271.8 758.8,267.7 758.2,266.9"/>
<path d="M772.8,273.7C773.1,272.7 774.3,268.3 774.7,266.9C775.1,265.5 775.3,264.2 775.6,263.7C775.9,263.2 776.6,263.3 776.7,263.2"/>
<path d="M761.3,290.5 766.3,301.2"/>
<path d="M760.2,207C761.2,206.6 765.8,204.2 767.5,203.6C769.2,203.1 770.5,202.8 772.3,203.2C774.1,203.6 778.1,205.3 780.3,206.4C782.6,207.4 787.1,209.9 788.2,210.5"/>
<path d="M788.2,210.5C788.1,211.9 787.3,217.6 787.7,220.9C788.1,224.2 789.8,231.5 790.8,233.6C791.8,235.8 794.5,234.9 794.6,235.9C794.7,237 792.2,240.4 791.8,241.2"/>
<path d="M791.8,241.2C792.4,242 794.8,245.1 796.1,246.8C797.3,248.6 799.7,251.9 800.7,253.2C801.7,254.5 803.5,254.7 803,255.9C802.4,257.2 797.8,261.4 797,262.3"/>
<path d="M791.8,241.2C792.8,241.4 795.4,243.2 798.3,243.2C801.3,243.2 810.5,242.1 812.7,240.9C814.8,239.8 811.9,236.3 813.3,235C814.7,233.7 821.4,233 822.8,231.8C824.1,230.7 822.4,227.7 822.6,226.8C822.9,225.9 823.7,226.4 824.3,225.5C824.9,224.5 826.6,221.7 827.1,220C827.5,218.3 826.3,214.7 827.6,213.2C828.8,211.6 834.4,209.9 836.1,209.1C837.7,208.3 838.7,207.9 839.2,207.7"/>
<path d="M789,215C789.9,214.9 794,214.5 795.6,214.1C797.3,213.6 799.5,212.8 800.9,211.8C802.3,210.8 804.6,207.5 805.6,206.8C806.5,206.1 807.2,207 807.5,207"/>
<path d="M807.5,207C808.2,207.1 811,207.6 812.5,207.7C814,207.9 817,208.4 818.2,208.2C819.4,207.9 820.3,206.7 821.1,205.9C821.9,205.1 823.3,201.9 824,202.3C824.8,202.7 825.2,207.9 826.6,208.6C828,209.3 832,207.4 833.8,207.3C835.6,207.1 838.4,207.7 839.2,207.7"/>
<path d="M839.2,207.7C839.9,208.5 842.6,212.1 844.5,213.2C846.5,214.3 850.8,214.4 852.6,215.4C854.5,216.5 856.9,219.3 857.6,220.9C858.4,222.5 857.7,225.7 858.2,226.8C858.6,228 860.3,228 860.5,229.1C860.8,230.2 858.5,233.1 859.7,234.6C860.9,236 867.2,238.8 869.2,239.6C871.2,240.3 872.1,239.2 873.9,240C875.7,240.9 879.5,244.1 881.9,245.5C884.2,246.8 888,248.9 890.3,249.6C892.7,250.2 897,250 898.6,250C900.1,250 900.7,249.2 901.2,249.6C901.7,250 901.8,252.8 902.2,252.8C902.5,252.7 902.4,249.4 903.8,249.1C905.3,248.8 910.1,250.9 912.3,250.5C914.4,250.1 916.9,247.3 918.8,246.4C920.8,245.5 924,243.9 926.1,244.1C928.2,244.4 932.8,247.6 933.9,248.2"/>
<path d="M912.3,250.5C912.6,251.1 915.8,253.9 914.9,254.6C914.1,255.3 908,255.8 906.1,255.5C904.3,255.2 902.7,253.2 902.2,252.8"/>
<path d="M869.2,239.6C868.8,240.5 865.4,244.1 866.8,245.9C868.2,247.7 875.8,250.9 879.1,252.3C882.5,253.7 887.7,255.3 890.6,255.9C893.6,256.6 898.6,257.7 899.7,256.9C900.9,256 898.7,251 898.6,250"/>
<path d="M823.5,269.1C825,268.7 833.3,267.2 834.1,266C835,264.7 830.6,261.8 829.6,260C828.5,258.2 826.6,254.7 826.8,253.2C826.9,251.7 829.2,250.5 830.6,249.6C832,248.6 835.1,247.8 836.7,246.4C838.3,245 840.8,241 841.8,239.6C842.7,238.1 843.1,237.3 843.4,235.9C843.8,234.6 844.8,231.3 844.3,230C843.8,228.7 840.7,228.1 839.8,226.8C838.9,225.5 837.3,222.2 837.9,220.9C838.4,219.6 842.1,218.5 843.7,217.7C845.2,216.9 847.6,215.8 848.8,215.4C850.1,215.1 852.1,215.4 852.6,215.4"/>
<path d="M906.2,277.8C906.1,277.5 906.2,276.4 905.9,275.5C905.6,274.6 904.9,272.9 904.2,271.4C903.5,269.9 901.3,266.3 901,265.1C900.6,263.8 901.8,263.2 901.8,262.3C901.7,261.4 900.2,259.5 900.4,258.7C900.6,257.9 902.4,256.9 903.3,256.9C904.1,256.9 906.1,258 906.7,258.7C907.3,259.4 906.1,261.3 907.6,261.9C909,262.4 915.2,262.2 916.7,262.8C918.2,263.4 918.4,265.3 918,266C917.5,266.7 914.1,267.2 913.5,267.8C912.9,268.4 913.5,269.3 913.8,270.1C914.1,270.8 915.2,272.9 915.8,272.8C916.4,272.7 917.4,268.6 918,269.1C918.6,269.7 920,275.4 920.2,276.9C920.4,278.4 919.4,278.8 919.4,279.6C919.3,280.5 919.7,282.3 919.8,282.8"/>
<path d="M920.2,276.9C920.5,276.2 922.1,273.6 922.4,272.3C922.6,271 921.6,269.2 922.1,267.8C922.7,266.4 925.3,263.9 926,262.3C926.7,260.7 926.2,257.6 927.3,256.4C928.5,255.2 932.9,254.8 933.9,253.7C934.8,252.5 933.9,249 933.9,248.2"/>
<path d="M933.9,248.2C934.8,248.7 938.6,250.2 939.7,251.9C940.8,253.5 941.8,257.8 941.6,259.6C941.3,261.3 938.4,262.9 938,264.1C937.6,265.4 937.7,267.1 938.7,268.2C939.6,269.3 943.5,270.7 944.7,271.9C945.9,273.1 946.6,275.9 947.4,276.9C948.1,277.9 949,278.6 950,279.2C951.1,279.7 953.9,280.3 954.6,280.5"/>
<path d="M954.6,280.5 950.7,284.4"/>
<path d="M950.7,284.4C949.6,284.8 944.2,286.2 942.8,287.3C941.5,288.5 940.5,290.5 941.1,292.8C941.8,295.1 946.5,301.6 947.2,303.7C947.9,305.9 945.7,306.3 946.1,307.8C946.4,309.3 949.2,312.5 949.9,314.2C950.6,315.9 950.7,318.3 951.2,319.7C951.6,321 953.2,322.3 953.1,323.8C953,325.2 950.8,328.6 950.3,329.7C949.8,330.8 949.7,331.2 949.6,331.5"/>
<path d="M950.7,284.4C951,284.9 952.1,287.7 952.8,288.3C953.5,288.8 955.1,287 955.6,288.3C956.1,289.5 955.7,296.5 956.4,297.4C957,298.2 958.7,294.8 959.9,294.2C961.1,293.6 963.4,292.8 964.9,293.3C966.5,293.7 969.7,296.1 970.6,297.4C971.5,298.6 970.5,300.6 971.2,301.9C971.9,303.3 974.8,305.6 975.4,306.9C976,308.3 975.7,310.8 975.5,311.5C975.4,312.1 974.5,311.7 974.3,311.7"/>
<path d="M954.6,280.5C954.8,279.7 955.7,275.4 956.1,274.6C956.5,273.8 957.2,275 957.3,275.1"/>
<path d="M957.3,275.1C958,276.1 960.3,281.2 961.9,282.3C963.4,283.4 967.6,282 968.3,282.8C968.9,283.6 966.1,286.5 966.6,287.8C967.1,289.1 970.3,290.2 971.9,291.9C973.5,293.6 976.4,297.4 978.1,299.6C979.7,301.9 982.7,306.3 983.5,307.8C984.2,309.3 983.3,309.8 983.3,310.1"/>
<path d="M957.3,275.1C958.3,274.9 962.6,274.7 964.3,274.2C966,273.6 967.8,271.1 969.3,271C970.8,270.8 974.3,272.4 975.1,273.2C976,274.1 974.4,276 975.3,276.9C976.1,277.7 980.3,278.8 981.1,279.2"/>
<path d="M974.3,311.7C973.1,311.7 967.1,311.4 965.6,311.9C964.1,312.4 963.8,313.4 963.9,315.1C964,316.8 965.9,322.5 966.3,323.8"/>
<path d="M983.3,310.1C983.5,311.6 985.1,318.6 984.4,320.6C983.7,322.5 978.9,322.9 978.3,323.8C977.6,324.7 980.1,326.4 979.7,326.9C979.3,327.5 976.3,327 975.3,327.4C974.4,327.8 973.4,329.3 973.1,329.7"/>
<path d="M974.3,311.7C974.8,312 976.5,314 977.7,313.7C979,313.5 982.5,310.6 983.3,310.1"/>
<path d="M956.5,347.9C957.1,348.3 959.5,350.9 960.7,351.1C961.8,351.2 964,349.1 964.6,348.8"/>
<path d="M868.8,153.9C870.3,154.7 876.7,158.1 879.1,160.1C881.5,162.1 884.7,166.4 885.8,168.1C886.9,169.7 885.3,171 886.9,171.6C888.4,172.3 894.2,172.4 896.7,173C899.3,173.6 902.6,174.3 904.7,175.7C906.7,177.1 907.8,181.8 911.1,182.9C914.5,183.9 923.4,182.6 928.1,183.3C932.9,184 941.2,187.7 944.6,187.8C948,187.9 949.7,185 952.3,184.2C954.8,183.4 960.5,183.3 962.4,182.4C964.3,181.5 965.7,179.3 965.8,177.9C965.9,176.5 962.3,173.2 962.9,172.5C963.4,171.9 967.5,173.9 969.4,173.4C971.3,173 973.5,170.6 976,169.4C978.6,168.2 987.4,166.3 987.7,165C987.9,163.6 980.6,160.4 978,159.6C975.4,158.9 970.8,160.8 969.5,159.6C968.2,158.4 968.8,152.4 968.7,151.2"/>
<path d="M868.8,153.9C869.6,153.4 872.1,151.3 874,150.3C875.9,149.3 879.5,146.8 882.1,146.8C884.8,146.8 889.5,150.2 892.5,150.3C895.4,150.5 902.1,149.4 902.9,148.1C903.8,146.9 898.4,142.4 898.6,141.6C898.7,140.7 901.6,141.6 904,142C906.3,142.4 913.2,143.8 915,144.6C916.8,145.4 914.1,147.1 916.6,147.7C919.1,148.3 929.1,148.2 932.6,149C936.1,149.8 938.8,152.8 941.2,153.4C943.7,154.1 947.3,154 950,153.4C952.6,152.9 957.4,149.8 960,149.5C962.7,149.1 967.5,151 968.7,151.2"/>
<path d="M968.7,151.2C969.8,150.8 975.3,150.3 976.2,148.6C977.1,146.8 975.8,140.8 975.2,139C974.7,137.2 971.2,136.5 972.2,135.9C973.1,135.4 979.2,134.7 982.1,135.1C985,135.4 989.4,136.5 992.7,138.5C996,140.6 1001.8,147.1 1005.3,149.5C1008.8,151.8 1015.1,153.6 1017.7,155.2C1020.3,156.8 1021.7,159.8 1023.5,160.5C1025.3,161.3 1028.3,160.9 1030.2,160.5C1032.1,160.1 1035.4,155.8 1036.7,157.4C1038,159 1039.5,169.3 1039.3,172.1C1039.1,174.9 1035.6,175.6 1035.3,177C1035,178.4 1037.1,180.9 1037.3,182C1037.5,183 1036.8,183.9 1036.7,184.2"/>
<path d="M1036.7,184.2C1036.2,183.9 1033.8,181.7 1032.6,182C1031.4,182.2 1029.3,185.2 1028.2,186C1027,186.8 1025.7,186.1 1024.5,187.4C1023.2,188.6 1020.1,194 1019.4,195"/>
<path d="M1032.5,205C1032.7,204.7 1033.8,203.3 1034.5,202.7C1035.1,202.2 1036.8,201.6 1037.2,201.4"/>
<path d="M735.2,166.7C734,165.8 728.3,161.4 726.8,160.1C725.3,158.7 724.8,158.3 724.6,157.4C724.4,156.5 725.7,154.8 725.7,153.9C725.7,152.9 723.8,151.2 724.4,150.8C725,150.4 729.2,151.7 730.1,151.2C731,150.8 729.7,148.9 730.7,147.7C731.8,146.5 734.5,143.1 737.3,142.9C740,142.6 747.1,145.6 750.1,145.9C753.1,146.3 756.6,145.5 758.7,145.5C760.7,145.5 762,145.8 764.3,145.9C766.6,146.1 774.1,147.4 774.6,146.8C775.1,146.2 768.4,142.3 767.9,141.6C767.4,140.8 771.2,142.7 771.3,141.6C771.5,140.4 767.4,134.8 768.8,133.3C770.3,131.8 778.4,131.8 781.6,131.2C784.9,130.6 790,129.6 791.6,129C793.3,128.4 792.3,127 793.5,126.9C794.8,126.7 799.3,127 800.6,127.7C801.8,128.4 800.7,131.3 802.2,132C803.7,132.8 808.4,132.9 811,132.9C813.6,132.9 818.9,131.6 820.8,132C822.7,132.5 821.5,133.8 824.1,135.9C826.6,138 835.3,145.4 838.8,146.8C842.3,148.2 845.8,145.2 848.8,145.9C851.8,146.7 857.4,150.9 860.1,152.1C862.7,153.3 866,154.1 867.3,154.3C868.5,154.6 868.6,153.9 868.8,153.9"/>
<path d="M868.8,153.9C868,154.4 863.7,156.5 863,157.8C862.4,159.2 865.4,162.5 864.3,163.2C863.2,163.9 856.5,161.7 855.3,162.7C854,163.7 856.5,168.9 855.4,170.3C854.4,171.7 848.4,170.8 847.9,172.5C847.4,174.3 851.2,180.6 851.8,182.4C852.5,184.2 852.6,184.7 852.7,185.1"/>
<path d="M852.7,185.1C851.3,185.9 845.4,189.2 842.5,190.5C839.7,191.9 834,193.6 832.6,194.6C831.1,195.5 832.2,196.9 832.1,197.3"/>
<path d="M832.1,197.3C832.4,197.9 832.6,200.5 833.6,201.8C834.7,203.2 838.5,206 839.3,206.8C840.1,207.7 839.2,207.6 839.2,207.7"/>
<path d="M852.7,185.1C851.9,184.7 850,182.8 847.5,182.4C844.9,182 837.6,182.5 834.7,182.4C831.8,182.3 828.1,181.3 827.1,181.5C826.2,181.8 829.1,183.8 827.9,184.2C826.7,184.7 820.2,184.6 818.9,184.7C817.6,184.8 818.6,184.9 818.6,184.9"/>
<path d="M818.6,184.9C817.7,185.5 814,188.4 812.7,189.2C811.4,190 810.7,190.5 809.4,190.5C808.1,190.6 804.9,190.9 803.6,189.6C802.3,188.3 801.4,183.1 800.2,181.5C798.9,179.9 797.2,178.7 795,178.4C792.8,178.1 788.2,180.5 784.7,179.3C781.2,178.1 773.5,170.8 770.2,169.9C766.9,168.9 762.2,169.8 761.5,172.5C760.7,175.3 764.4,186.8 764.9,189.2"/>
<path d="M764.9,189.2C765.4,189.2 768.1,189.6 768.6,189.2C769,188.7 767.7,186.9 768.3,186C768.9,185.1 771.3,183 772.7,182.9C774.2,182.7 777.6,184.2 778.7,185.1C779.8,186 779.2,188.5 780.3,189.2C781.5,189.9 784.8,188.9 786.8,190.1C788.8,191.3 792,195.9 794.4,197.8C796.7,199.6 801.5,201.9 803.3,203.2C805.2,204.5 806.9,206.5 807.5,207"/>
<path d="M764.9,189.2C764.1,188.7 761.4,186.3 759.5,186C757.6,185.7 752.4,187 751.3,187.1"/>
<path d="M832.1,197.3C831.1,197.4 826.8,197.8 824.8,197.8C822.9,197.7 819.7,197.4 818.3,196.9C816.9,196.3 815,195 815.1,194.1C815.1,193.3 817.6,191.7 818.7,191C819.8,190.3 823,190 823,189.2C823,188.3 819.2,185.5 818.6,184.9"/>
<path d="M812.5,207.7C812.7,207.1 814.1,204.5 813.8,203.2C813.5,201.8 810.3,199.5 810.4,198.2C810.6,196.9 814.4,194.7 815.1,194.1"/>
<path d="M1121.4,388.8 1119.7,418.4"/>
<path d="M1052.6,225.9C1052.6,225 1054.7,223 1055.6,222.7C1056.5,222.5 1058.3,223.4 1059.2,224.1C1060,224.8 1061.4,226.4 1061.7,227.7C1062,229.1 1061.8,232.5 1061.5,233.6C1061.2,234.8 1060.2,235.8 1059.6,235.9C1059,236.1 1057.8,235.5 1057.2,234.6C1056.7,233.6 1056.3,230.3 1055.7,229.1C1055,227.9 1052.6,226.8 1052.6,225.9Z"/>
<path d="M1061.3,222.7C1061.7,222.1 1063.6,221.1 1064.8,220.9C1065.9,220.7 1068.3,221 1069.1,221.4C1069.9,221.7 1070.2,222.6 1070.2,223.2C1070.2,223.8 1069.9,225.2 1069.2,225.5C1068.6,225.7 1066.2,224.7 1065.6,225C1065,225.3 1065.6,227.7 1065.1,227.7C1064.6,227.7 1062.7,225.7 1062.2,225C1061.6,224.3 1060.9,223.3 1061.3,222.7Z"/>
<path d="M1055.4,222.3C1056.2,222.3 1059.1,221.3 1060.6,220.9C1062.1,220.5 1064.7,219.7 1066.1,219.5C1067.5,219.3 1069.8,218.8 1070.7,219.5C1071.5,220.2 1071.7,223.8 1072.3,224.5C1072.9,225.3 1074.3,225.3 1075.1,224.8C1075.8,224.3 1077,221.6 1077.3,220.9C1077.6,220.2 1076.8,219.7 1077.5,219.5C1078.2,219.3 1081.1,219.6 1082,219.5C1083,219.5 1083.5,219.5 1084.1,219.1C1084.8,218.7 1085.7,217.5 1086.6,216.8C1087.4,216.2 1090.1,215.6 1090.1,214.5C1090.1,213.5 1087.3,211 1086.7,209.5C1086,208.1 1085.7,205.5 1085.6,204.1C1085.5,202.7 1085.9,200.6 1085.9,199.6C1085.9,198.5 1086.2,197.8 1085.6,196.9C1085,195.9 1082.5,193.9 1081.5,192.8C1080.6,191.6 1079.5,189.4 1078.9,188.7C1078.2,188.1 1077.2,188.1 1076.8,188.3C1076.3,188.5 1075.6,189.1 1075.6,190.1C1075.6,191 1076.3,193.7 1076.8,195C1077.4,196.4 1079.2,198.5 1079.6,199.6C1079.9,200.7 1079.5,201.6 1079.3,202.7C1079,203.8 1078.7,206.8 1077.7,207.3C1076.8,207.8 1073.2,206 1072.4,206.4C1071.6,206.7 1072.2,208.4 1072,209.5C1071.9,210.6 1071.8,213.3 1071.4,214.1C1070.9,214.9 1069.7,214.8 1068.7,215C1067.8,215.2 1065.6,215.4 1064.4,215.4C1063.3,215.5 1061.8,214.8 1060.6,215.4C1059.5,216.1 1057.2,219.2 1056.4,220C1055.6,220.8 1055,220.6 1054.9,220.9C1054.7,221.2 1054.6,222.3 1055.4,222.3Z"/>
<path d="M1074.1,188.7C1074.9,189.2 1076.2,187.5 1076,186.9C1075.8,186.3 1072.7,185.1 1072.5,184.7C1072.3,184.2 1072.9,183.6 1074.5,183.8C1076.1,184 1082.3,186.3 1083.9,186C1085.5,185.7 1084.8,182.4 1085.6,181.5C1086.4,180.6 1089.6,180.5 1089.6,179.7C1089.5,178.9 1086.2,176.1 1085.2,175.7C1084.2,175.3 1083.7,177.2 1082.4,177C1081.1,176.8 1077.8,175.3 1076,174.3C1074.3,173.4 1070.5,170.2 1069.9,170.3C1069.3,170.4 1071,173.5 1071.6,174.8C1072.2,176.1 1073.7,178.4 1074,179.3C1074.3,180.1 1074.3,180.4 1073.7,180.6C1073.2,180.8 1070.6,180.2 1070.1,180.6C1069.6,181.1 1069.6,182.6 1070.1,183.8C1070.7,184.9 1073.3,188.3 1074.1,188.7Z"/>
<path d="M1068.5,168.1C1069.4,168.4 1072.7,166.8 1072.4,165.8C1072.1,164.9 1067.8,163 1066.6,161.4C1065.4,159.8 1063.6,155.7 1063.8,154.8C1064.1,153.8 1068.8,155.4 1068.4,154.8C1068,154.1 1063,152.2 1061,150.3C1059,148.5 1056.7,144.2 1054.3,141.6C1052,138.9 1045.8,132.5 1044.5,131.6C1043.1,130.7 1044,133.6 1044.6,135.1C1045.3,136.5 1047.6,139.7 1049.2,141.6C1050.7,143.4 1053.8,146 1055.5,148.1C1057.2,150.3 1059.7,154.8 1061.1,157C1062.5,159.2 1064.5,162 1065.6,163.6C1066.6,165.2 1067.5,167.8 1068.5,168.1Z"/>
<path d="M1031.1,261.9C1031.7,261.7 1032.8,262.2 1033,263.7C1033.3,265.2 1033,270.4 1032.7,272.3C1032.5,274.3 1032,277.3 1031.2,277.3C1030.5,277.3 1027.9,274.1 1027.6,272.3C1027.3,270.6 1028.5,266.5 1029,265.1C1029.5,263.6 1030.5,262.1 1031.1,261.9Z"/>
<path d="M985.4,289.6C985.7,288.4 988.7,285.9 990,285.5C991.2,285.2 993.9,286.3 994.2,287.3C994.5,288.4 993.1,291.8 992.2,292.8C991.3,293.8 989,294.6 988,294.2C987.1,293.7 985.1,290.8 985.4,289.6Z"/>
<path d="M1033,292.8C1033.9,292.2 1038.2,291.5 1039.3,292.8C1040.5,294.1 1041.2,300.2 1041.1,301.9C1041,303.7 1039,303.7 1038.8,305.1C1038.6,306.5 1039,310.9 1039.7,311.9C1040.3,313 1041.9,311.5 1043.3,312.4C1044.8,313.2 1048.9,316.8 1049.9,317.8C1051,318.9 1050.9,319.7 1050.5,319.7C1050.1,319.7 1048.4,318.6 1047.2,317.8C1045.9,317.1 1042.9,314.7 1041.6,314.2C1040.2,313.7 1038.4,315 1037.6,314.7C1036.8,314.3 1035.8,312.6 1035.7,311.9C1035.6,311.3 1036.9,310.5 1036.7,310.1C1036.4,309.7 1034.5,310.2 1033.8,309.2C1033.1,308.2 1031.8,304.4 1031.8,303.3C1031.7,302.2 1033.4,302.3 1033.5,301.5C1033.6,300.6 1032.6,298.6 1032.5,297.4C1032.4,296.1 1032,293.5 1033,292.8Z"/>
<path d="M1044.2,345.1C1044.7,344.3 1047.5,338.8 1049,337.9C1050.4,336.9 1053.4,339 1054.6,338.3C1055.8,337.6 1056.5,332.9 1057.4,332.9C1058.3,332.9 1060.3,336.8 1061,338.3C1061.7,339.9 1062.6,342.4 1062.6,343.8C1062.6,345.2 1061.8,348.1 1061.2,348.3C1060.7,348.6 1059.1,345.1 1058.7,345.6C1058.3,346.1 1059,351.1 1058.2,351.5C1057.4,351.9 1054.1,349.4 1053.2,348.3C1052.4,347.3 1052.7,345 1052.2,344.2C1051.6,343.5 1050.3,342.9 1049.3,342.9C1048.3,342.8 1046.1,343.5 1045.3,343.8C1044.6,344.1 1043.7,346 1044.2,345.1Z"/>
<path d="M1051.4,320.1C1051.8,319.4 1054.5,319.3 1055.4,320.1C1056.3,321 1057.5,324.5 1057.6,326C1057.7,327.5 1056.4,329.9 1056,330.6C1055.5,331.3 1055,331.8 1054.4,331C1053.9,330.3 1052.7,326.7 1052.3,325.1C1051.9,323.6 1051,320.8 1051.4,320.1Z"/>
<path d="M1042.5,323.3C1043.2,323 1046.1,323.8 1047.1,324.7C1048,325.5 1048.8,327.8 1049.1,329.2C1049.3,330.6 1049.2,334.1 1048.7,334.7C1048.2,335.3 1046,334.2 1045.4,333.3C1044.8,332.5 1045.1,329.7 1044.6,328.8C1044.2,327.9 1042.8,327.7 1042.5,326.9C1042.2,326.2 1041.9,323.6 1042.5,323.3Z"/>
<path d="M1024.6,338.8C1025.1,338.5 1028.2,335.2 1029.4,333.8C1030.6,332.3 1032.5,330 1033,328.8C1033.6,327.5 1033.8,325 1033.5,325.1C1033.2,325.2 1032.2,328.1 1031.1,329.7C1030,331.2 1026.5,334.8 1025.6,336C1024.7,337.3 1024,339.1 1024.6,338.8Z"/>
<path d="M995.3,367.9C996.5,367.8 999.1,370.5 1001,369.7C1002.9,368.9 1007.2,364.3 1008.8,362.4C1010.5,360.6 1011.5,357.8 1012.7,356.5C1013.9,355.2 1016.3,354.3 1017.4,353.3C1018.4,352.4 1019.5,350.9 1020.4,349.7C1021.2,348.5 1022.4,345.5 1023.4,345.1C1024.3,344.8 1026.4,346.6 1027.1,347.4C1027.8,348.2 1027.6,349.8 1028.5,350.6C1029.4,351.4 1033.2,352.4 1033.4,353.3C1033.6,354.2 1030.8,356.3 1029.9,357C1029.1,357.7 1027.4,357.6 1027.2,358.3C1026.9,359.1 1028.1,361.1 1028.1,362.4C1028.1,363.8 1026.3,366.5 1027.1,367.9C1027.8,369.3 1033,371.7 1033.2,372.4C1033.4,373.2 1029.2,372.4 1028.4,373.4C1027.5,374.3 1027.9,377.8 1027.2,379.3C1026.4,380.8 1023.7,382.5 1023.1,383.8C1022.5,385.1 1023.3,387.1 1023,388.4C1022.7,389.7 1022,392 1020.9,392.9C1019.7,393.9 1016,395.3 1015.2,395.2C1014.3,395.1 1015.7,392.9 1014.8,392.5C1013.9,392 1010.4,392.3 1008.8,392C1007.2,391.8 1005.2,391.2 1003.6,390.7C1002.1,390.1 998.6,389.3 997.7,388.4C996.7,387.4 997.5,385.1 997,383.8C996.4,382.5 994.4,380.6 993.8,379.3C993.3,378 993.1,376 993,374.7C992.9,373.4 992.6,371.1 993,370.2C993.3,369.2 994.2,368 995.3,367.9Z"/>
<path d="M937.4,351.5C938.5,351.3 944.3,352.2 946.3,353.3C948.3,354.5 949.6,357.8 951.3,359.7C953.1,361.6 956.7,365.2 958.7,367C960.8,368.8 963.9,371 965.7,372.4C967.4,373.9 970,375.7 970.9,377C971.8,378.3 971.5,380.3 972.1,381.6C972.6,382.8 974.2,384.8 974.8,385.6C975.5,386.5 976,386.8 976.8,387.5C977.6,388.2 980.3,389.4 980.7,390.7C981.2,391.9 979.9,394.3 979.8,396.1C979.7,397.9 980.3,402.4 979.9,403.4C979.5,404.4 978.2,404 977.1,403.4C976,402.8 974.1,400.5 972.4,399.3C970.8,398.1 967.4,396.3 965.8,394.7C964.1,393.2 961.8,390.3 960.7,388.4C959.6,386.4 959.1,383 958,381.1C956.9,379.2 953.7,376.4 952.8,374.7C951.9,373 952.4,370.7 951.5,369.3C950.7,367.8 947.9,366 946.6,364.7C945.3,363.4 943.7,361.5 942.5,360.2C941.3,358.8 939.1,356.4 938.3,355.2C937.6,353.9 936.3,351.8 937.4,351.5Z"/>
<path d="M976.9,407.9C976.8,407 979.6,404.4 980.7,403.8C981.7,403.3 982.9,403.7 984.3,404.1C985.6,404.5 988.3,406 990.2,406.6C992.1,407.2 996.3,408.4 997.7,408.4C999.1,408.4 998.9,406.6 1000.2,406.6C1001.5,406.6 1005.1,407.6 1007,408.4C1008.8,409.2 1012.6,410.9 1013.6,412C1014.5,413.1 1014.5,415.8 1013.7,416.1C1012.9,416.5 1009.8,415 1007.8,414.8C1005.8,414.5 1002,414.7 999.8,414.3C997.6,413.9 993.9,412.4 991.9,412C989.9,411.7 987.4,412.3 985.9,412C984.4,411.8 982.9,410.8 981.6,410.2C980.3,409.6 977,408.8 976.9,407.9Z"/>
<path d="M1040.4,371.1C1041.6,370.8 1043.7,372.2 1045.2,372.4C1046.8,372.7 1049.7,373.2 1051.3,372.9C1052.9,372.6 1055.5,370.6 1056.5,370.2C1057.4,369.8 1058.2,369.5 1058.1,370.2C1057.9,370.8 1056.6,374 1055.3,374.7C1054.1,375.4 1051,375.1 1049.3,375.2C1047.6,375.2 1044.8,375.2 1043.3,375.2C1041.7,375.2 1039.3,374.4 1038.5,375.2C1037.6,376 1036.8,379.7 1037.2,380.6C1037.6,381.5 1040.4,381.6 1041.2,381.6C1042.1,381.6 1042.1,380.7 1043.2,380.6C1044.4,380.6 1048.2,381.1 1049.3,381.1C1050.4,381.1 1050.9,380.4 1050.9,380.6C1050.9,380.8 1050.1,381.8 1049.2,382.5C1048.4,383.1 1046,384.7 1045.2,385.2C1044.3,385.7 1043,385.3 1043.1,386.1C1043.2,386.9 1045.3,389.7 1045.8,390.7C1046.4,391.6 1046.4,392.1 1047,392.9C1047.5,393.8 1049.5,395.7 1049.6,396.6C1049.8,397.4 1048.8,398.5 1047.9,398.8C1047.1,399.2 1044.2,399.4 1043.5,398.8C1042.8,398.3 1043.2,396.5 1042.9,395.2C1042.5,393.9 1041.7,390.5 1041,389.7C1040.4,389 1038.6,389.7 1038.2,390.2C1037.9,390.6 1038.5,391.8 1038.5,392.9C1038.5,394.1 1038.4,397.1 1038.3,398.4C1038.2,399.7 1038.3,401.4 1037.8,402C1037.2,402.6 1034.9,403.5 1034.5,402.5C1034.1,401.5 1035.1,396.9 1034.8,395.2C1034.6,393.5 1032.6,392.3 1032.6,390.7C1032.5,389 1033.8,385.6 1034.3,383.8C1034.9,382.1 1036.2,379.7 1036.4,378.4C1036.7,377.1 1035.9,375.8 1036.4,374.7C1037,373.7 1039.1,371.4 1040.4,371.1Z"/>
<path d="M1081.4,380.6C1082.1,379.9 1085.8,378.8 1087.5,378.8C1089.2,378.8 1092.5,379.6 1093.5,380.6C1094.4,381.7 1093.6,384.5 1094.2,386.1C1094.7,387.7 1095.9,391.9 1097.2,392C1098.5,392.1 1101.6,388.1 1103.4,387C1105.1,385.9 1107.1,384.1 1109.5,384.3C1111.9,384.5 1117.4,387.2 1120.2,388.4C1123,389.5 1127.2,391.6 1129.3,392.5C1131.4,393.4 1133.7,393.6 1135.3,394.7C1136.8,395.9 1138.8,399.3 1140.2,400.7C1141.5,402 1143.7,403.3 1144.8,404.3C1145.9,405.3 1147.2,406.2 1147.8,407.5C1148.4,408.8 1148.1,411.6 1148.9,413.4C1149.8,415.2 1152.2,418.7 1153.5,420.2C1154.9,421.7 1158.7,423.4 1158.4,423.9C1158,424.3 1153.2,423.9 1151.2,423.4C1149.2,422.9 1145.9,421.5 1144.3,420.2C1142.7,418.9 1141.5,415.5 1140,414.3C1138.6,413.2 1135.7,411.8 1134.2,412C1132.8,412.2 1130.8,414.7 1129.9,415.7C1129,416.6 1129.1,418.5 1127.6,418.9C1126.2,419.3 1121.6,419.1 1119.7,418.4C1117.7,417.8 1115.7,414.8 1114,414.3C1112.3,413.9 1108.3,416 1107.9,415.2C1107.6,414.5 1111.5,410.7 1111.6,408.9C1111.7,407 1110.3,403.6 1108.8,402C1107.3,400.5 1103.2,399 1101,397.9C1098.7,396.9 1094.8,395.1 1093.1,394.7C1091.3,394.4 1089.8,395.9 1088.6,395.2C1087.5,394.5 1084.9,390.8 1085.2,389.7C1085.6,388.7 1091.7,388.8 1091.3,387.9C1090.9,387.1 1084,384.9 1082.6,383.8C1081.2,382.8 1080.7,381.3 1081.4,380.6Z"/>
<path d="M1049.2,423.9C1049.5,423.2 1053.4,419.2 1055.6,418C1057.8,416.7 1063.8,415.2 1064.6,415.2C1065.5,415.2 1063.3,416.9 1061.6,418C1060,419.1 1055,422.1 1053.2,423C1051.5,423.8 1048.8,424.6 1049.2,423.9Z"/>
<path d="M1067.3,368.8C1067.5,367.9 1068.5,366.7 1069.2,367C1069.9,367.3 1072.1,370 1072.1,371.1C1072.2,372.2 1069.5,373.6 1069.4,374.7C1069.3,375.9 1071.5,378.8 1071.4,379.3C1071.3,379.8 1069.2,379.2 1068.6,378.4C1068,377.5 1067.6,374.7 1067.4,373.4C1067.2,372 1067,369.7 1067.3,368.8Z"/>
<path d="M1019.8,415.2C1020.9,414.8 1025.6,414.4 1027.8,414.3C1030.1,414.3 1033.1,414.8 1035.8,414.8C1038.6,414.8 1045.7,414 1047.1,414.3C1048.5,414.6 1047.3,416.6 1045.7,417C1044.1,417.5 1038.2,417.4 1035.6,417.5C1033.1,417.6 1029.9,417.5 1027.6,417.5C1025.4,417.5 1020.7,417.8 1019.6,417.5C1018.5,417.2 1018.6,415.7 1019.8,415.2Z"/>
<path d="M1150.1,402.5C1149.9,401.7 1154.9,400.7 1157.1,399.8C1159.2,398.9 1164,396.1 1165.3,396.1C1166.6,396.1 1167.2,398.5 1166.3,399.8C1165.4,401 1161.1,404.8 1158.8,405.2C1156.5,405.6 1150.3,403.3 1150.1,402.5Z"/>
<path d="M1005.3,476.2C1004.2,476.9 1003.7,477 1002.9,479.4C1002.1,481.8 1000,489 999.6,493C999.3,497.1 1000.3,503.9 1000.5,508.1C1000.6,512.3 1001.4,519.1 1000.5,522.6C999.7,526.2 993.9,531.2 994.5,533.1C995,535 1001.9,536.5 1004.7,536.3C1007.5,536 1010.9,532 1014.1,531.3C1017.3,530.6 1023.8,532.3 1027.4,531.3C1031,530.2 1036.1,525.4 1039.6,524C1043,522.6 1048.8,521.8 1052,521.3C1055.2,520.7 1059.6,520 1061.9,520.4C1064.2,520.7 1067.1,521.4 1068.4,523.5C1069.8,525.7 1069.2,535.2 1071.4,535.4C1073.7,535.6 1083.4,524.6 1084.4,524.9C1085.4,525.2 1078.5,535.6 1078.2,537.2C1078,538.7 1082.4,535.6 1082.6,535.8C1082.8,536.1 1079.5,538.3 1079.7,539C1079.9,539.7 1083.6,539.3 1084.2,540.8C1084.8,542.4 1082.9,548.2 1083.7,549.9C1084.5,551.6 1087.6,552.6 1089.8,552.6C1092,552.7 1097.3,550 1099.2,550.4C1101.1,550.7 1101.3,555 1103.1,554.9C1105,554.8 1109.5,550.5 1112,549.4C1114.4,548.4 1118.6,548.9 1120.4,547.6C1122.3,546.4 1123.2,543.1 1125,540.8C1126.7,538.5 1130.5,533.9 1132.9,531.3C1135.2,528.7 1139.5,525.1 1141.6,522.6C1143.7,520.1 1146.5,515.7 1148,513.5C1149.4,511.3 1151.2,509.1 1151.8,507.2C1152.5,505.2 1152.2,502.2 1152.7,499.9C1153.2,497.6 1155.7,492.8 1155.4,490.8C1155,488.7 1151,486.9 1150.1,485.3C1149.2,483.7 1149.6,481.1 1148.7,479.4C1147.9,477.7 1145.3,474.6 1144.2,473C1143.1,471.4 1142,469.2 1140.9,468C1139.7,466.8 1137,466 1136.1,464.4C1135.1,462.8 1134.7,458.1 1134.4,456.6C1134.1,455.2 1134.2,455.5 1134.1,453.9C1134,452.3 1134.4,446.9 1133.6,445.3C1132.8,443.6 1128.9,443.7 1128.1,442.1C1127.3,440.5 1128.5,436.2 1128,433.9C1127.6,431.6 1126,425.7 1125,425.7C1124,425.7 1121.8,431.1 1120.9,433.9C1119.9,436.7 1119.5,442 1118.5,445.3C1117.5,448.5 1115.2,455 1113.8,456.6C1112.4,458.3 1110.1,457.3 1108.6,456.6C1107.2,456 1104.8,453.2 1103.5,452.1C1102.1,451 1100.4,450 1099.2,448.9C1098,447.8 1095,445.8 1094.7,444.4C1094.5,442.9 1096.5,440 1097.5,438.4C1098.5,436.8 1102,433.9 1101.8,433C1101.6,432 1098.2,431.9 1096.4,431.6C1094.5,431.3 1090.1,431.2 1088.5,430.7C1086.8,430.2 1086.2,428.2 1084.7,428.4C1083.3,428.7 1079.9,431.1 1078.3,432.5C1076.7,433.9 1074.7,436.7 1073.6,438.4C1072.5,440.2 1071.9,443.8 1070.8,444.8C1069.6,445.8 1066.9,445.8 1065.5,445.3C1064.2,444.7 1062.8,441 1061.4,440.7C1059.9,440.4 1056.7,441.7 1055.1,443C1053.5,444.3 1051.6,448 1050.2,449.8C1048.8,451.6 1046.8,454.5 1045.3,455.7C1043.8,457 1041,457.4 1039.7,458.5C1038.4,459.6 1037.9,462.1 1036.2,463.5C1034.4,464.8 1030.2,466.9 1027.5,468C1024.8,469.1 1019.6,470.2 1017.2,471.2C1014.8,472.2 1012.4,474.1 1010.7,474.8C1009,475.6 1006.5,475.6 1005.3,476.2Z"/>
<path d="M1092.8,562.1C1094,561.4 1096.6,563.8 1098.4,563.9C1100.2,564.1 1105.1,562.3 1105.6,563C1106.1,563.7 1103.4,567.4 1102,568.9C1100.7,570.4 1097.8,572.9 1096,573.8C1094.3,574.7 1090.5,575.8 1089.7,575.2C1088.9,574.5 1090,571.2 1090.4,569.3C1090.9,567.5 1091.7,562.9 1092.8,562.1Z"/>
<path d="M549.2,217.3C549.5,218.2 550.4,221.8 550.8,223.6C551.2,225.5 552.8,229.2 552.1,230.5C551.3,231.8 546.8,231.9 545.5,232.7C544.2,233.6 544.4,235.2 543,236.4C541.6,237.6 538.3,240 535.5,241.4C532.6,242.8 524.7,245 522.8,246.4C521,247.7 522.7,250.3 522.6,250.9"/>
<path d="M522.6,250.9 505.1,250.9"/>
<path d="M522.5,252.8C522.5,253.6 524.1,257.8 522.3,258.7C520.4,259.5 511.3,257 509.4,258.7C507.5,260.3 509.5,268.3 508.9,270.3C508.3,272.2 505.5,270.9 504.9,272.3C504.3,273.7 506.8,279 504.6,280.1C502.3,281.2 491.2,280.1 489,280.1"/>
<path d="M522.5,252.8 537.4,263.2"/>
<path d="M537.4,263.2C540.6,265.9 556.9,279.3 560.5,282.3C564.1,285.4 561.7,284 562.8,284.6C563.9,285.3 567.5,286.1 568.3,286.9C569.2,287.7 568.1,290.1 568.7,290.5C569.3,291 571.9,289.9 572.4,289.9"/>
<path d="M572.4,289.9C573.3,289.6 576.8,289.4 578.6,288.3C580.4,287.1 581.9,284.5 585.3,281.9C588.8,279.3 600.6,271.7 603.1,270.1"/>
<path d="M603.1,270.1C602,269.4 596.6,267.4 595.2,265.5C593.9,263.6 593.4,258.8 593.3,256.9C593.3,254.9 594.7,253.1 594.9,251.9C595.1,250.6 594.7,250 594.5,248.2C594.3,246.5 593.6,240.8 593.4,239.6"/>
<path d="M593.4,239.6C593.1,238.3 592.6,232.9 591.5,230.9C590.5,228.9 586.6,227.1 586.2,225.5C585.9,223.8 588.6,221.1 589,219.1C589.4,217 588.9,212.3 589.1,210.9C589.2,209.5 590.1,209.3 590.2,209.1"/>
<path d="M593.4,239.6C593.8,238.6 595.4,234.3 596.5,232.7C597.6,231.2 600.5,229.6 601.1,228.6C601.8,227.7 601.1,226.3 601.1,225.9"/>
<path d="M653.7,233.2C653.7,234.7 653.3,237.9 653.3,244.1C653.4,250.3 654.1,272.2 654.2,276.9"/>
<path d="M654.2,276.9C654.3,278.2 654.9,284.7 654.4,286C653.9,287.3 651,285.7 650.5,286C649.9,286.3 650.5,287.9 650.5,288.3"/>
<path d="M650.5,288.3C646,285.7 623.8,272.5 618.8,270.3C613.7,268 615.4,272 614.9,272.3"/>
<path d="M614.9,272.3C614.4,272.6 613.4,274.5 611.7,274.2C610,273.8 604.3,270.6 603.1,270.1"/>
<path d="M654.2,276.9 701,276.9"/>
<path d="M650.5,288.3C650.5,290.7 651.4,303 650.8,305.6C650.2,308.1 647.3,305.5 646.4,306.5C645.6,307.4 645.4,310.6 644.9,312.4C644.4,314.2 642.8,317.1 643,319.2C643.3,321.3 646.2,326.2 646.7,327.4"/>
<path d="M614.9,272.3C615.1,273.6 616.5,277.6 616.9,281.4C617.2,285.3 618.5,295.4 617.4,299.6C616.3,303.8 610.2,308.9 609.1,311C607.9,313.1 609.1,314.1 609.1,314.7"/>
<path d="M609.1,314.7C609.5,315.2 611,317 611.9,318.7C612.7,320.5 614.4,325.1 615.1,326.9C615.8,328.7 617.7,330.8 617.1,331.5C616.5,332.1 612.1,331.2 611.1,331.5C610.1,331.7 609.6,331.7 610.3,333.3C611,334.9 615.1,341.5 615.9,342.9"/>
<path d="M615.9,342.9C616.7,342.7 619.2,342.3 621.1,342C623.1,341.6 627.3,341.5 629.6,340.6C631.8,339.7 634.3,337.5 636.7,335.6C639.2,333.7 645.3,328.6 646.7,327.4"/>
<path d="M609.1,314.7C607.7,314.9 601.6,315.9 599.1,316.5C596.6,317.1 593.4,318.6 591.1,318.7C588.9,318.9 585.9,318.3 583.1,317.8C580.4,317.4 573.9,314.7 572,315.6C570.1,316.4 569.9,322.6 569.5,323.8"/>
<path d="M569.5,323.8C568.9,323.4 565.6,322.1 564.8,321.5C563.9,320.9 564.8,321.5 563.6,319.7C562.4,317.9 557.2,310.3 556.1,308.7"/>
<path d="M556.1,308.7C558,308.5 567,308.1 569.3,306.9C571.6,305.8 571.9,303 572.3,300.5C572.8,298.1 572.4,291.4 572.4,289.9"/>
<path d="M537.4,263.2C536.4,263.2 531.2,257.1 530.7,263.2C530.2,269.4 535.2,300.3 533.5,306.5C531.7,312.6 521.3,306.4 518.4,306.5C515.4,306.5 514,307 512.8,306.9C511.6,306.9 510.5,305.6 509.6,306C508.8,306.4 507.2,309.1 506.8,309.6"/>
<path d="M506.8,309.6C506,308.8 503,304.9 501.8,303.7C500.5,302.6 499.6,301.5 497.9,301.5C496.2,301.5 491,303.4 489.8,303.7"/>
<path d="M506.8,309.6 509.7,320.6"/>
<path d="M509.7,320.6C508.4,320.4 503.5,319.7 500.5,319.7C497.5,319.7 490.2,320.4 488.5,320.6"/>
<path d="M488.3,315.1C489.3,315 493.8,314.1 495.5,314.2C497.2,314.3 500.2,315.2 500.2,315.6C500.2,316 497.1,316.7 495.4,316.9C493.7,317.2 489.2,317.3 488.2,317.4"/>
<path d="M500.5,319.7C500.5,320.2 501.2,322.7 500.4,323.8C499.7,324.9 495.9,326.9 495.1,327.4"/>
<path d="M509.7,320.6C511,320.6 517.4,319.2 519.3,320.6C521.2,322 522.5,329.2 523.1,330.6"/>
<path d="M523.1,330.6 521.7,342.4"/>
<path d="M521.7,342.4C521.1,342.5 518.4,343.9 517.3,343.3C516.2,342.7 514.3,339 513.8,338.3"/>
<path d="M513.8,338.3C513.6,337.8 513.3,335.6 512.6,334.7C512,333.7 510.6,331.3 509.1,331.5C507.5,331.7 502.8,335.4 501.8,336"/>
<path d="M513.8,338.3 508.9,345.6"/>
<path d="M521.7,342.4C522.2,343.6 524.4,348.5 524.9,350.6C525.3,352.7 524.8,356.1 524.8,357"/>
<path d="M523.1,330.6 533.1,329.7"/>
<path d="M533.1,329.7C533.7,328.2 535.2,321.7 537.2,319.2C539.3,316.8 544.6,313.9 547.3,312.4C550,310.9 554.9,309.3 556.1,308.7"/>
<path d="M533.1,329.7 543.9,332.9"/>
<path d="M543.9,332.9C543.6,335.2 542.3,346.7 542.1,349.7C541.9,352.7 542.4,353.2 542.5,353.8"/>
<path d="M543.9,332.9C543.9,332 542.3,327.8 543.9,326.9C545.5,326 553.5,326.6 555.1,326.5"/>
<path d="M555.1,326.5C555.4,328.2 556.4,335.1 557,338.3C557.7,341.5 559.4,347.7 559.8,349.2"/>
<path d="M558.3,327.4C558.8,328.6 561,333 561.5,336C561.9,339.1 561.4,347 561.4,348.8"/>
<path d="M555.1,326.5C555.6,326.6 557.4,327.7 558.7,326.9C560.1,326.2 563.9,322.3 564.8,321.5"/>
<path d="M569.5,323.8C569.1,325.5 566.8,332.6 566.3,336C565.7,339.5 565.9,346.2 565.8,347.9"/>
<path d="M589.5,355.2C590,354.1 591.5,348.6 593.1,347.4C594.6,346.3 598.6,348.3 600.3,347C602,345.7 603.7,341.2 605.1,338.3C606.5,335.5 609.3,329.5 610.3,326.9C611.3,324.4 611.7,321.5 611.9,320.6"/>
<path d="M615.9,342.9C615.5,343.8 613.2,347.4 613.1,349.7C613,352 614.3,356.3 615.2,358.8C616,361.2 618.6,365.8 619.2,367"/>
<path d="M619.6,369.3 608.3,367"/>
<path d="M608.3,367C607.2,367 602.3,367.1 600.3,367C598.3,366.9 595.1,366.6 594.3,366.5"/>
<path d="M600.3,367C600.3,367.8 601.3,371.7 600.3,372.4C599.3,373.2 594.4,372.4 593.5,372.4"/>
<path d="M608.3,367C609,367.5 612.4,369.2 612.8,370.6C613.1,372 610.7,375.7 610.7,377C610.8,378.3 612.9,378.4 613.2,379.7C613.4,381 613.9,385 612.8,386.1C611.6,387.2 606.5,386.8 605.1,387.5C603.8,388.1 603.9,389.6 603.1,390.7C602.3,391.7 600,394.2 599.5,394.7"/>
<path d="M619.2,367C619.2,367.3 619.2,370.1 619.6,369.3C619.9,368.4 620.2,362.2 621.6,361.1C623,359.9 628.5,361.1 629.6,361.1"/>
<path d="M629.6,361.1C629.3,362 627.7,365.3 627.2,367.9C626.8,370.5 627.4,376.7 626.4,379.3C625.4,381.9 621.1,383.9 620,386.1C618.9,388.3 619.3,393.3 618.8,394.7C618.2,396.2 616.8,395.9 616,396.6C615.1,397.2 613.9,399.1 612.7,399.3C611.5,399.5 608.9,397.9 607.5,397.9C606.2,398 603.7,399.5 603.1,399.8"/>
<path d="M604.3,404.3C604.7,404.2 604.7,403.9 607.1,403.8C609.6,403.8 619.3,402.9 621.6,403.8C623.8,404.8 621.6,408.9 623.2,410.2C624.7,411.6 630,413.4 632.8,413.4C635.5,413.4 641,409.3 642.4,410.2C643.8,411.2 642.5,417.8 642.7,420.2C643,422.7 643.1,426.6 644.3,427.5C645.4,428.4 649.8,426.7 650.7,426.6"/>
<path d="M629.6,361.1C630.1,360 631,354.2 633.2,353.8C635.4,353.4 642.1,358.4 645.3,358.3C648.4,358.3 652.5,354 655.3,353.3C658.1,352.7 663.6,353.7 664.9,353.8"/>
<path d="M646.7,327.4C647.1,328.8 648.6,335.3 650,337.4C651.3,339.5 653.9,339.6 656,342C658.1,344.3 663.7,352.1 664.9,353.8"/>
<path d="M664.9,353.8C666.1,354.2 671.4,355.5 673.4,356.5C675.3,357.6 677.9,360.4 678.6,361.1"/>
<path d="M678.6,361.1C678.9,361.9 680.8,365.1 680.3,367C679.8,368.9 676,371.9 675.1,374.3C674.2,376.6 674,382.1 673.8,383.4"/>
<path d="M678.6,361.1C680.4,360.6 688.6,358.6 691.5,357.9C694.3,357.2 698,356.3 699.1,356.1"/>
<path d="M699.1,356.1C698,353.9 692.9,342.7 691.3,340.6C689.6,338.5 687.2,342 687.3,341C687.3,340.1 691,335.7 691.6,333.8C692.2,331.8 691.5,328.3 691.5,327.4"/>
<path d="M650.8,337.4C651.4,336.4 652.8,330.6 655.1,330.1C657.4,329.7 664.3,334.2 667.2,334.2C670,334.2 672.9,331.8 675.1,330.1C677.4,328.5 681.2,323.6 683,322.4C684.8,321.2 686.6,319.9 687.8,321.5C688.9,323.1 690.3,332 690.8,333.8"/>
<path d="M691.5,327.4C692.1,326.4 694.9,322.4 696.1,320.1C697.4,317.9 699.7,312.7 700.3,311.5"/>
<path d="M700.3,311.5C700.6,309.8 701.1,302 702.3,299.6C703.4,297.3 707.6,295.7 708.5,295.1"/>
<path d="M700.3,311.5C701.7,311.3 708.1,310.4 710.6,310.6C713.1,310.8 715.9,311.5 717.8,312.8C719.8,314.2 723.1,319.2 724.5,320.1C725.8,321 726.8,319.3 727.2,319.2"/>
<path d="M724.5,320.1C724.1,321.1 721.9,326 722.2,326.9C722.6,327.9 726.5,326.7 727,326.9C727.6,327.2 725.3,327.5 725.9,328.8C726.5,330.1 728.8,334.4 731.3,336C733.7,337.7 741.1,339.9 743.4,340.6C745.7,341.2 748.5,338.7 747.4,340.6C746.3,342.5 739,351.8 735.6,354.2C732.2,356.7 725.3,357.2 723.6,357.9C721.8,358.6 723.2,359.1 723.2,359.3"/>
<path d="M723.2,359.3C721.8,359.6 715.8,361.3 713.6,361.5C711.4,361.7 709.5,361.3 707.5,360.6C705.5,360 700.7,357.6 699.5,357C698.3,356.3 699.1,356.2 699.1,356.1"/>
<path d="M723.2,359.3C722.7,360 720.1,361.7 719.6,364.3C719.1,366.8 719.7,374.6 719.7,377C719.7,379.4 719.3,380 719.7,381.1C720,382.2 721.7,384.2 722.1,384.7"/>
<path d="M691.5,357.9C691.7,359.9 693.5,369.4 693.5,372C693.6,374.6 691.8,375.5 691.5,376.1"/>
<path d="M691.5,381.6C693.6,382.8 703,388.3 706,390.7C708.9,393 711.4,397.3 712.3,398.4"/>
<path d="M673.8,383.4C674.4,383.1 675,381.8 677.5,381.6C680,381.3 689.5,381.6 691.5,381.6"/>
<path d="M673.8,383.4C673.6,384.1 672.5,386.9 672.2,388.8C672,390.8 672,394.8 672.2,397C672.4,399.2 672.9,401.9 673.7,404.3C674.6,406.8 678.4,412.7 678,414.3C677.6,415.9 672.1,415 670.8,415.7C669.5,416.4 669,417.1 668.8,419.3C668.6,421.5 668.6,429.3 669.4,431.2C670.2,433 673.5,431.6 674.2,432.5C674.8,433.5 674.9,437.8 674.1,438C673.3,438.2 670.1,434.8 668.6,433.9C667,433 664.8,432.4 663,431.6C661.3,430.8 658,428.7 656.3,428C654.5,427.3 651.5,426.8 650.7,426.6"/>
<path d="M677.5,381.6C677.6,382.5 678.7,386.3 678.6,387.9C678.6,389.5 677.6,391.6 677,392.9C676.4,394.2 674.6,396.6 674.2,397.3"/>
<path d="M672.2,388.8 678.6,387.9"/>
<path d="M678,414.3C679.3,415.1 684.9,418.9 686.8,419.8C688.6,420.6 690.1,418.8 691.2,420.2C692.3,421.7 692.6,428.4 694.6,429.8C696.6,431.2 701.8,431 705,430.2C708.1,429.5 715,425.6 716.7,424.8"/>
<path d="M686.8,419.8C687,420.8 688.4,424.4 688.3,427.1C688.1,429.8 685,436.6 685.6,438.9C686.3,441.1 691.3,440.7 692.7,443C694.1,445.2 694.8,453.9 695.5,454.8C696.2,455.8 697.8,453.4 697.7,449.8C697.5,446.3 695,432.6 694.6,429.8"/>
<path d="M650.7,426.6C650.7,428 652.1,434.8 651,436.2C649.9,437.5 644.1,434.1 643,436.2C641.8,438.2 642.1,447.8 642.8,450.7C643.6,453.7 647.5,456.2 648.3,457.1"/>
<path d="M648.3,457.1C649.3,457.2 653.8,457.7 655.8,458C657.8,458.3 660.5,460.1 662.5,458.9C664.6,457.7 668.3,450.9 670.3,449.4C672.2,447.8 675.4,448.2 676.3,448"/>
<path d="M676.3,448C676.2,447.6 673.9,446.3 675.5,445.3C677.1,444.2 686.1,441.6 687.6,440.7C689,439.8 685.9,439.1 685.6,438.9"/>
<path d="M602.3,455.3C603.5,455.4 607.3,456.1 611,456.2C614.8,456.3 624.7,455.8 628.9,456.2C633,456.6 637.6,458.8 640.3,458.9C643.1,459 647.2,457.4 648.3,457.1"/>
<path d="M638.7,460.3C638.7,462.7 639.1,474.7 638.5,477.1C637.9,479.5 635.1,475.3 634.6,477.1C634,478.9 634.4,488.1 634.4,489.9"/>
<path d="M634.4,489.9C634.3,492.2 635.1,503.6 634.1,506.2C633,508.9 629,508.4 627.1,508.5C625.1,508.6 621.4,507.3 620.5,507.2"/>
<path d="M634.4,489.9C634.8,491.1 635.8,498.6 637.3,499C638.8,499.3 642.3,493.3 644.9,492.6C647.5,491.9 653.4,495.1 655.8,494C658.1,492.9 659.3,487.1 661.5,484.9C663.7,482.6 670.1,479 671.5,478"/>
<path d="M671.5,478C670.6,476.9 667.2,473.1 665,470.3C662.8,467.5 657.1,459.7 655.8,458"/>
<path d="M671.5,478 679,478.9"/>
<path d="M679,478.9C679.9,477.3 684.6,470.3 685.6,467.1C686.7,463.9 687.1,459 686.3,456.6C685.6,454.3 682,451.9 680.6,450.7C679.1,449.5 676.9,448.4 676.3,448"/>
<path d="M679,478.9C679.3,480.3 681.1,485.7 681.4,488.5C681.7,491.3 680.5,497.4 681,499C681.4,500.5 684,499.2 684.4,499.2"/>
<path d="M661,511.7C661.3,510.4 666.1,507.2 667.4,507.2C668.7,507.2 670.6,510.4 670.3,511.7C669.9,513 666.4,516.3 665.1,516.3C663.7,516.3 660.7,513 661,511.7Z"/>
<path d="M677.2,495.3C677.8,494.5 680.6,494.5 681.1,495.3C681.6,496.1 681.5,500 680.9,500.8C680.3,501.6 677.5,501.6 677,500.8C676.5,500 676.6,496.1 677.2,495.3Z"/>
</g>
<!--MAPEND-->
<!-- panels -->
<rect x="13" y="86" width="560" height="495" fill="rgb(224,239,248)" fill-opacity="0.68"/>
<rect x="623" y="86" width="560" height="495" fill="rgb(212,242,245)" fill-opacity="0.68"/>

<!-- title -->
<text class="t1" x="40.6" y="27.2" textLength="108.8" lengthAdjust="spacingAndGlyphs">Global</text>
<text class="t1" x="162.3" y="27.2" textLength="174.7" lengthAdjust="spacingAndGlyphs">Organoids</text>
<text class="t1" x="345.0" y="27.2" textLength="27.1" lengthAdjust="spacingAndGlyphs">in</text>
<text class="t1" x="383.2" y="27.2" textLength="219.8" lengthAdjust="spacingAndGlyphs">Regenerative</text>
<text class="t1" x="614.0" y="27.2" textLength="153.2" lengthAdjust="spacingAndGlyphs">Medicine</text>
<text class="t1" x="778.0" y="27.2" textLength="115.6" lengthAdjust="spacingAndGlyphs">Market</text>
<text class="t1" x="41.4" y="69.2" textLength="74.6" lengthAdjust="spacingAndGlyphs">2018</text>
<text class="t1" x="126.5" y="69.2" textLength="28.6" lengthAdjust="spacingAndGlyphs">to</text>
<text class="t1" x="168.8" y="69.2" textLength="74.6" lengthAdjust="spacingAndGlyphs">2032</text>

<!-- logo -->
<g id="logo">
<rect x="971.1" y="23.8" width="4" height="9.5" fill="#1fa8cc"/>
<rect x="977.1" y="19.1" width="4.4" height="15.5" fill="#1fa8cc"/>
<rect x="983.2" y="14.6" width="3.4" height="20" fill="#4d6475"/>
<circle cx="979.1" cy="24" r="12.25" fill="none" stroke="#4d6475" stroke-width="3.3"/>
<path d="M965.2 37 L965.4 29 L967.6 31.5 L972 35.8 Z" fill="#4d6475"/>
<text x="997.6" y="25.6" font-size="18.6" fill="#2aa7c9" textLength="76.6" lengthAdjust="spacingAndGlyphs">Credence</text>
<text x="1079.8" y="25.6" font-size="18.6" fill="#5d6b74" textLength="73.8" lengthAdjust="spacingAndGlyphs">Research</text>
<text x="997.7" y="35" font-size="4.6" font-weight="bold" fill="#4a4f55" textLength="154" lengthAdjust="spacing">Actionable Insights Delivered</text>
</g>

<!-- left chart -->
<text class="ct" x="151.78" y="132.8" textLength="50.46" lengthAdjust="spacingAndGlyphs">Global</text>
<text class="ct" x="202.74" y="132.8" textLength="51.67" lengthAdjust="spacingAndGlyphs">Market</text>
<text class="ct" x="256.91" y="132.8" textLength="32.01" lengthAdjust="spacingAndGlyphs">Size,</text>
<text class="ct" x="292.18" y="132.8" textLength="36.70" lengthAdjust="spacingAndGlyphs">2018,</text>
<text class="ct" x="332.58" y="132.8" textLength="31.83" lengthAdjust="spacingAndGlyphs">2024</text>
<text class="ct" x="369.34" y="132.8" textLength="29.16" lengthAdjust="spacingAndGlyphs">and</text>
<text class="ct" x="401.73" y="132.8" textLength="32.92" lengthAdjust="spacingAndGlyphs">2032</text>
<text class="cb" x="233.4" y="157.2" textLength="48.2" lengthAdjust="spacingAndGlyphs">(USD</text>
<text class="cb" x="282.84" y="157.2" textLength="69.89" lengthAdjust="spacingAndGlyphs">Million)</text>
<g stroke="#d5dde0" stroke-width="1">
<line x1="57" x2="523" y1="251.5" y2="251.5"/>
<line x1="57" x2="523" y1="287.5" y2="287.5"/>
<line x1="57" x2="523" y1="323.5" y2="323.5"/>
<line x1="57" x2="523" y1="359.5" y2="359.5"/>
<line x1="57" x2="523" y1="395.5" y2="395.5"/>
<line x1="57" x2="523" y1="430.5" y2="430.5"/>
<line x1="57" x2="522.5" y1="467" y2="467"/>
</g>
<rect x="97" y="449.4" width="76.1" height="17.6" fill="#bf8f00"/>
<rect x="251.6" y="431" width="76" height="36" fill="#33a3a3"/>
<rect x="406.1" y="264.1" width="75.8" height="202.9" fill="#0581b2"/>
<text class="dl" x="122.8" y="442.5" textLength="27.8" lengthAdjust="spacingAndGlyphs">95.70</text>
<text class="dl" x="274.6" y="424.2" textLength="34.6" lengthAdjust="spacingAndGlyphs">197.62</text>
<text class="dl" x="424.6" y="255.6" textLength="43.4" lengthAdjust="spacingAndGlyphs">1,129.55</text>
<text class="ax" x="135.4" y="481" text-anchor="middle" textLength="19.4" lengthAdjust="spacing">2018</text>
<text class="ax" x="289.6" y="481" text-anchor="middle" textLength="19.4" lengthAdjust="spacing">2024</text>
<text class="ax" x="444" y="481" text-anchor="middle" textLength="19.4" lengthAdjust="spacing">2032</text>
<rect x="44.4" y="238.05" width="491.1" height="253.1" fill="none" stroke="#ffffff" stroke-opacity="0.75" stroke-width="3.4"/>
<rect x="44.4" y="238.05" width="491.1" height="253.1" fill="none" stroke="#1a1a1a" stroke-width="1.3"/>

<!-- right chart -->
<text class="cr" x="810.37" y="136.8" textLength="56.75" lengthAdjust="spacingAndGlyphs">CAGR</text>
<text class="cr" x="872.40" y="136.8" textLength="23.78" lengthAdjust="spacingAndGlyphs">by</text>
<text class="cr" x="901.96" y="136.8" textLength="72.51" lengthAdjust="spacingAndGlyphs">Region,</text>
<text class="cr" x="980.07" y="136.8" textLength="15.56" lengthAdjust="spacingAndGlyphs">%</text>
<rect x="665" y="255.3" width="308.5" height="18.5" fill="#66cffc"/>
<rect x="665" y="289.2" width="318.6" height="19.5" fill="#173d4d"/>
<rect x="665" y="323.6" width="332" height="19.7" fill="#bf8f00"/>
<rect x="665" y="358.2" width="391" height="19" fill="#0581b2"/>
<rect x="665" y="392.3" width="345" height="19.5" fill="#33a3a3"/>
<rect x="665" y="427" width="360.8" height="19.8" fill="#317a9c"/>
<text class="dl" x="981" y="268.9" textLength="30.2" lengthAdjust="spacingAndGlyphs">19.5%</text>
<text class="dl" x="990.6" y="303.7" textLength="30.2" lengthAdjust="spacingAndGlyphs">20.1%</text>
<text class="dl" x="1003.6" y="338.5" textLength="30.2" lengthAdjust="spacingAndGlyphs">20.9%</text>
<text class="dl" x="1063" y="372.5" textLength="30.2" lengthAdjust="spacingAndGlyphs">24.7%</text>
<text class="dl" x="1017.2" y="407" textLength="30.2" lengthAdjust="spacingAndGlyphs">21.8%</text>
<text class="dl" x="1032.8" y="441.8" textLength="30.2" lengthAdjust="spacingAndGlyphs">22.8%</text>
<g>
<rect x="685.9" y="474.5" width="5.4" height="6" fill="#317a9c"/>
<text class="lg" x="693.9" y="481.8" textLength="27.4" lengthAdjust="spacingAndGlyphs">North</text>
<text class="lg" x="727.4" y="481.8" textLength="43.4" lengthAdjust="spacingAndGlyphs">America</text>
<rect x="781" y="474.5" width="5.4" height="6" fill="#33a3a3"/>
<text class="lg" x="789.1" y="481.8" textLength="37.3" lengthAdjust="spacingAndGlyphs">Europe</text>
<rect x="835.9" y="474.5" width="5.4" height="6" fill="#0581b2"/>
<text class="lg" x="844.8" y="481.8" textLength="20.3" lengthAdjust="spacingAndGlyphs">Asia</text>
<text class="lg" x="869.3" y="481.8" textLength="34.8" lengthAdjust="spacingAndGlyphs">Pacific</text>
<rect x="914.3" y="474.5" width="5.4" height="6" fill="#bf8f00"/>
<text class="lg" x="922.4" y="481.8" textLength="24.5" lengthAdjust="spacingAndGlyphs">Latin</text>
<text class="lg" x="952.4" y="481.8" textLength="43.4" lengthAdjust="spacingAndGlyphs">America</text>
<rect x="1005.7" y="474.5" width="5.4" height="6" fill="#173d4d"/>
<text class="lg" x="1013.0" y="481.8" textLength="37.5" lengthAdjust="spacingAndGlyphs">Middle</text>
<text class="lg" x="1053.3" y="481.8" textLength="21.2" lengthAdjust="spacingAndGlyphs">East</text>
<rect x="1083.7" y="474.5" width="5.4" height="6" fill="#66cffc"/>
<text class="lg" x="1092.8" y="481.8" textLength="29.2" lengthAdjust="spacingAndGlyphs">Africa</text>
</g>
<rect x="651.4" y="234.3" width="502.8" height="261" fill="none" stroke="#ffffff" stroke-opacity="0.75" stroke-width="3.4"/>
<rect x="651.4" y="234.3" width="502.8" height="261" fill="none" stroke="#1a1a1a" stroke-width="1.3"/>
</svg>
</body>
</html>
